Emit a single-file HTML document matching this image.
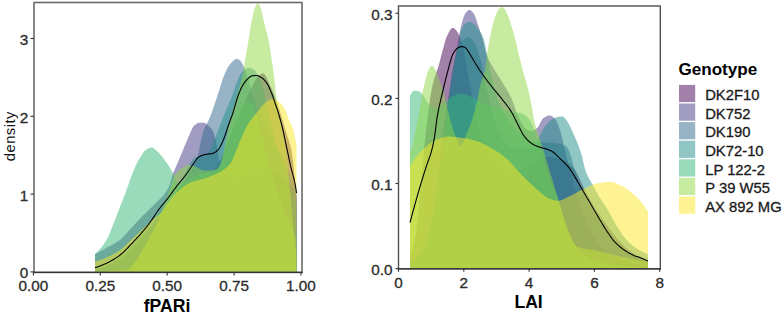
<!DOCTYPE html>
<html><head><meta charset="utf-8"><style>
html,body{margin:0;padding:0;background:#fff;width:783px;height:314px;overflow:hidden}
svg{display:block}
text{font-family:"Liberation Sans", sans-serif}
.t{stroke:currentColor;stroke-width:0.3px;paint-order:stroke}
</style></head><body>
<svg width="783" height="314" viewBox="0 0 783 314" font-family='"Liberation Sans", sans-serif'>
<rect width="783" height="314" fill="#fff"/>
<path d="M95.0,271.9 L95.0,270.0 95.5,269.9 96.0,269.8 96.5,269.6 97.0,269.5 97.5,269.4 98.0,269.2 98.5,269.1 99.0,268.9 99.5,268.8 100.0,268.6 100.5,268.4 101.0,268.3 101.5,268.1 102.0,267.9 102.5,267.7 103.0,267.6 103.5,267.4 104.0,267.2 104.5,267.0 105.0,266.8 105.5,266.6 106.0,266.4 106.5,266.2 107.0,266.0 107.5,265.8 108.0,265.6 108.5,265.4 109.0,265.1 109.5,264.9 110.0,264.7 110.5,264.5 111.0,264.2 111.5,264.0 112.0,263.7 112.5,263.5 113.0,263.2 113.5,262.9 114.0,262.7 114.5,262.4 115.0,262.1 115.5,261.8 116.0,261.5 116.5,261.2 117.0,260.9 117.5,260.6 118.0,260.3 118.5,260.0 119.0,259.7 119.5,259.3 120.0,259.0 120.5,258.7 121.0,258.3 121.5,257.9 122.0,257.5 122.5,257.1 123.0,256.7 123.5,256.2 124.0,255.8 124.5,255.3 125.0,254.9 125.5,254.4 126.0,253.9 126.5,253.5 127.0,253.0 127.5,252.5 128.0,252.0 128.5,251.5 129.0,251.0 129.5,250.5 130.0,250.0 130.5,249.5 131.0,249.0 131.5,248.5 132.0,248.0 132.5,247.5 133.0,247.0 133.5,246.5 134.0,246.0 134.5,245.4 135.0,244.9 135.5,244.4 136.0,243.8 136.5,243.3 137.0,242.8 137.5,242.2 138.0,241.7 138.5,241.1 139.0,240.6 139.5,240.0 140.0,239.5 140.5,238.9 141.0,238.3 141.5,237.8 142.0,237.2 142.5,236.7 143.0,236.1 143.5,235.6 144.0,235.0 144.5,234.4 145.0,233.9 145.5,233.3 146.0,232.8 146.5,232.2 147.0,231.6 147.5,231.1 148.0,230.5 148.5,229.9 149.0,229.3 149.5,228.8 150.0,228.2 150.5,227.6 151.0,227.0 151.5,226.4 152.0,225.8 152.5,225.2 153.0,224.6 153.5,224.0 154.0,223.4 154.5,222.8 155.0,222.2 155.5,221.6 156.0,220.9 156.5,220.3 157.0,219.7 157.5,219.1 158.0,218.5 158.5,217.9 159.0,217.2 159.5,216.6 160.0,216.0 160.5,215.4 161.0,214.8 161.5,214.1 162.0,213.5 162.5,212.9 163.0,212.3 163.5,211.6 164.0,211.0 164.5,210.4 165.0,209.8 165.5,209.1 166.0,208.5 166.5,207.9 167.0,207.3 167.5,206.6 168.0,206.0 168.5,205.4 169.0,204.7 169.5,204.1 170.0,203.4 170.5,202.7 171.0,202.1 171.5,201.4 172.0,200.8 172.5,200.1 173.0,199.5 173.5,198.8 174.0,198.2 174.5,197.6 175.0,197.1 175.5,196.5 176.0,196.0 176.5,195.5 177.0,195.0 177.5,194.6 178.0,194.1 178.5,193.6 179.0,193.2 179.5,192.8 180.0,192.4 180.5,191.9 181.0,191.5 181.5,191.1 182.0,190.8 182.5,190.4 183.0,190.0 183.5,189.6 184.0,189.2 184.5,188.9 185.0,188.5 185.5,188.1 186.0,187.8 186.5,187.4 187.0,187.1 187.5,186.7 188.0,186.4 188.5,186.0 189.0,185.7 189.5,185.4 190.0,185.0 190.5,184.7 191.0,184.4 191.5,184.1 192.0,183.8 192.5,183.5 193.0,183.2 193.5,182.9 194.0,182.6 194.5,182.3 195.0,182.0 195.5,181.7 196.0,181.5 196.5,181.2 197.0,180.9 197.5,180.7 198.0,180.4 198.5,180.2 199.0,179.9 199.5,179.7 200.0,179.5 200.5,179.2 201.0,179.0 201.5,178.8 202.0,178.5 202.5,178.3 203.0,178.0 203.5,177.8 204.0,177.5 204.5,177.3 205.0,177.0 205.5,176.7 206.0,176.5 206.5,176.2 207.0,176.0 207.5,175.8 208.0,175.5 208.5,175.2 209.0,175.0 209.5,174.7 210.0,174.4 210.5,174.1 211.0,173.8 211.5,173.4 212.0,173.0 212.5,172.6 213.0,172.1 213.5,171.5 214.0,170.9 214.5,170.2 215.0,169.5 215.5,168.8 216.0,168.0 216.5,167.2 217.0,166.4 217.5,165.5 218.0,164.6 218.5,163.7 219.0,162.8 219.5,161.9 220.0,161.0 220.5,160.0 221.0,159.0 221.5,158.0 222.0,156.9 222.5,155.7 223.0,154.5 223.5,153.3 224.0,152.1 224.5,150.8 225.0,149.6 225.5,148.3 226.0,147.0 226.5,145.7 227.0,144.5 227.5,143.2 228.0,142.0 228.5,140.8 229.0,139.5 229.5,138.3 230.0,137.0 230.5,135.8 231.0,134.5 231.5,133.2 232.0,131.9 232.5,130.7 233.0,129.4 233.5,128.1 234.0,126.9 234.5,125.6 235.0,124.4 235.5,123.2 236.0,122.0 236.5,120.8 237.0,119.7 237.5,118.5 238.0,117.4 238.5,116.2 239.0,115.1 239.5,114.0 240.0,112.8 240.5,111.7 241.0,110.6 241.5,109.5 242.0,108.4 242.5,107.3 243.0,106.2 243.5,105.1 244.0,104.0 244.5,102.9 245.0,101.8 245.5,100.7 246.0,99.6 246.5,98.5 247.0,97.4 247.5,96.3 248.0,95.2 248.5,94.2 249.0,93.1 249.5,92.0 250.0,91.0 250.5,90.0 251.0,88.9 251.5,87.8 252.0,86.8 252.5,85.7 253.0,84.7 253.5,83.7 254.0,82.7 254.5,81.8 255.0,81.0 255.5,80.2 256.0,79.4 256.5,78.6 257.0,77.8 257.5,77.1 258.0,76.5 258.5,75.9 259.0,75.5 259.5,75.1 260.0,74.7 260.5,74.4 261.0,74.1 261.5,73.8 262.0,73.6 262.5,73.4 263.0,73.4 263.5,73.5 264.0,73.8 264.5,74.3 265.0,74.9 265.5,75.6 266.0,76.5 266.5,77.5 267.0,78.5 267.5,79.6 268.0,80.7 268.5,81.9 269.0,83.0 269.5,84.1 270.0,85.2 270.5,86.2 271.0,87.3 271.5,88.4 272.0,89.6 272.5,90.8 273.0,92.0 273.5,93.3 274.0,94.6 274.5,95.9 275.0,97.3 275.5,98.6 276.0,100.0 276.5,101.4 277.0,102.8 277.5,104.2 278.0,105.7 278.5,107.2 279.0,108.7 279.5,110.3 280.0,111.8 280.5,113.4 281.0,115.0 281.5,116.6 282.0,118.3 282.5,119.9 283.0,121.6 283.5,123.4 284.0,125.1 284.5,126.8 285.0,128.6 285.5,130.3 286.0,132.0 286.5,133.6 287.0,135.2 287.5,136.7 288.0,138.1 288.5,139.6 289.0,141.1 289.5,142.7 290.0,144.5 290.5,146.4 291.0,148.6 291.5,151.0 292.0,153.9 292.5,157.3 293.0,161.1 293.5,165.4 294.0,170.0 294.5,176.0 295.0,182.9 295.5,189.1 296.0,194.3 296.5,199.0 L296.5,271.9 Z" fill="#440154" fill-opacity="0.5"/>
<path d="M95.0,271.9 L95.0,254.2 95.5,253.9 96.0,253.7 96.5,253.4 97.0,253.1 97.5,252.9 98.0,252.6 98.5,252.3 99.0,252.1 99.5,251.8 100.0,251.5 100.5,251.3 101.0,251.0 101.5,250.7 102.0,250.4 102.5,250.2 103.0,249.9 103.5,249.6 104.0,249.3 104.5,249.0 105.0,248.8 105.5,248.5 106.0,248.2 106.5,247.9 107.0,247.6 107.5,247.3 108.0,247.1 108.5,246.8 109.0,246.5 109.5,246.3 110.0,246.0 110.5,245.7 111.0,245.5 111.5,245.2 112.0,244.9 112.5,244.6 113.0,244.4 113.5,244.1 114.0,243.8 114.5,243.5 115.0,243.2 115.5,242.9 116.0,242.6 116.5,242.3 117.0,242.0 117.5,241.6 118.0,241.3 118.5,240.9 119.0,240.6 119.5,240.2 120.0,239.8 120.5,239.4 121.0,239.0 121.5,238.5 122.0,238.0 122.5,237.6 123.0,237.1 123.5,236.6 124.0,236.0 124.5,235.5 125.0,235.0 125.5,234.4 126.0,233.9 126.5,233.3 127.0,232.8 127.5,232.2 128.0,231.7 128.5,231.1 129.0,230.6 129.5,230.0 130.0,229.5 130.5,229.0 131.0,228.4 131.5,227.9 132.0,227.4 132.5,226.8 133.0,226.3 133.5,225.7 134.0,225.2 134.5,224.6 135.0,224.1 135.5,223.5 136.0,223.0 136.5,222.4 137.0,221.9 137.5,221.3 138.0,220.8 138.5,220.3 139.0,219.7 139.5,219.2 140.0,218.7 140.5,218.2 141.0,217.7 141.5,217.2 142.0,216.6 142.5,216.1 143.0,215.6 143.5,215.1 144.0,214.6 144.5,214.2 145.0,213.7 145.5,213.2 146.0,212.7 146.5,212.2 147.0,211.7 147.5,211.2 148.0,210.7 148.5,210.2 149.0,209.7 149.5,209.2 150.0,208.7 150.5,208.2 151.0,207.7 151.5,207.2 152.0,206.7 152.5,206.2 153.0,205.7 153.5,205.2 154.0,204.7 154.5,204.2 155.0,203.7 155.5,203.2 156.0,202.7 156.5,202.2 157.0,201.7 157.5,201.2 158.0,200.7 158.5,200.2 159.0,199.7 159.5,199.3 160.0,198.8 160.5,198.3 161.0,197.9 161.5,197.4 162.0,196.9 162.5,196.4 163.0,195.8 163.5,195.2 164.0,194.6 164.5,194.0 165.0,193.3 165.5,192.6 166.0,191.8 166.5,191.0 167.0,190.1 167.5,189.2 168.0,188.3 168.5,187.2 169.0,186.2 169.5,185.0 170.0,183.7 170.5,182.1 171.0,180.3 171.5,178.5 172.0,176.7 172.5,175.0 173.0,173.5 173.5,172.2 174.0,171.0 174.5,169.9 175.0,168.8 175.5,167.7 176.0,166.6 176.5,165.5 177.0,164.3 177.5,163.2 178.0,162.0 178.5,160.8 179.0,159.6 179.5,158.4 180.0,157.2 180.5,156.0 181.0,154.8 181.5,153.6 182.0,152.4 182.5,151.2 183.0,150.0 183.5,148.8 184.0,147.6 184.5,146.4 185.0,145.2 185.5,144.0 186.0,142.8 186.5,141.6 187.0,140.4 187.5,139.2 188.0,138.0 188.5,136.8 189.0,135.7 189.5,134.6 190.0,133.4 190.5,132.3 191.0,131.1 191.5,129.9 192.0,128.9 192.5,127.9 193.0,127.0 193.5,126.3 194.0,125.8 194.5,125.4 195.0,124.9 195.5,124.5 196.0,124.1 196.5,123.8 197.0,123.5 197.5,123.2 198.0,123.0 198.5,122.8 199.0,122.7 199.5,122.7 200.0,122.7 200.5,122.7 201.0,122.7 201.5,122.7 202.0,122.7 202.5,122.7 203.0,122.7 203.5,122.7 204.0,122.7 204.5,122.7 205.0,122.9 205.5,123.2 206.0,123.6 206.5,124.1 207.0,124.5 207.5,125.0 208.0,125.5 208.5,125.9 209.0,126.4 209.5,126.8 210.0,127.2 210.5,127.7 211.0,128.2 211.5,128.8 212.0,129.5 212.5,130.2 213.0,131.0 213.5,132.0 214.0,133.4 214.5,135.0 215.0,136.9 215.5,138.9 216.0,141.0 216.5,143.5 217.0,146.6 217.5,149.8 218.0,153.1 218.5,156.0 219.0,158.8 219.5,161.5 220.0,164.1 220.5,166.4 221.0,168.0 221.5,169.2 222.0,170.3 222.5,171.4 223.0,172.3 223.5,173.1 224.0,173.9 224.5,174.5 225.0,175.1 225.5,175.6 226.0,176.0 226.5,176.4 227.0,176.7 227.5,177.1 228.0,177.4 228.5,177.7 229.0,178.0 229.5,178.3 230.0,178.6 230.5,178.8 231.0,179.1 231.5,179.3 232.0,179.5 232.5,179.6 233.0,179.7 233.5,179.9 234.0,179.9 234.5,180.0 235.0,180.0 235.5,180.0 236.0,180.0 236.5,179.9 237.0,179.9 237.5,179.9 238.0,179.8 238.5,179.7 239.0,179.7 239.5,179.6 240.0,179.5 240.5,179.4 241.0,179.3 241.5,179.2 242.0,179.1 242.5,179.0 243.0,178.8 243.5,178.7 244.0,178.6 244.5,178.5 245.0,178.3 245.5,178.2 246.0,178.1 246.5,177.9 247.0,177.8 247.5,177.7 248.0,177.5 248.5,177.4 249.0,177.3 249.5,177.1 250.0,177.0 250.5,176.9 251.0,176.7 251.5,176.6 252.0,176.4 252.5,176.2 253.0,176.0 253.5,175.8 254.0,175.6 254.5,175.4 255.0,175.1 255.5,174.9 256.0,174.7 256.5,174.5 257.0,174.3 257.5,174.0 258.0,173.8 258.5,173.6 259.0,173.4 259.5,173.2 260.0,173.0 260.5,172.8 261.0,172.7 261.5,172.5 262.0,172.4 262.5,172.3 263.0,172.2 263.5,172.1 264.0,172.0 264.5,172.0 265.0,172.0 265.5,172.0 266.0,172.0 266.5,172.0 267.0,172.1 267.5,172.1 268.0,172.1 268.5,172.2 269.0,172.3 269.5,172.3 270.0,172.4 270.5,172.5 271.0,172.6 271.5,172.7 272.0,172.8 272.5,172.9 273.0,173.0 273.5,173.1 274.0,173.2 274.5,173.3 275.0,173.5 275.5,173.6 276.0,173.7 276.5,173.9 277.0,174.0 277.5,174.2 278.0,174.3 278.5,174.5 279.0,174.7 279.5,174.8 280.0,175.0 280.5,175.2 281.0,175.4 281.5,175.7 282.0,176.0 282.5,176.3 283.0,176.6 283.5,177.0 284.0,177.5 284.5,177.9 285.0,178.4 285.5,178.9 286.0,179.4 286.5,180.0 287.0,180.6 287.5,181.2 288.0,181.8 288.5,182.4 289.0,183.1 289.5,183.8 290.0,184.5 290.5,185.2 291.0,186.0 291.5,186.7 292.0,187.5 292.5,188.3 293.0,189.1 293.5,189.9 294.0,190.7 294.5,191.6 295.0,192.4 295.5,193.3 296.0,194.1 296.5,195.0 L296.5,271.9 Z" fill="#443A83" fill-opacity="0.5"/>
<path d="M95.0,271.9 L95.0,270.0 95.5,269.9 96.0,269.8 96.5,269.6 97.0,269.5 97.5,269.4 98.0,269.2 98.5,269.1 99.0,268.9 99.5,268.8 100.0,268.6 100.5,268.4 101.0,268.3 101.5,268.1 102.0,267.9 102.5,267.7 103.0,267.6 103.5,267.4 104.0,267.2 104.5,267.0 105.0,266.8 105.5,266.6 106.0,266.4 106.5,266.2 107.0,266.0 107.5,265.8 108.0,265.6 108.5,265.4 109.0,265.1 109.5,264.9 110.0,264.7 110.5,264.5 111.0,264.2 111.5,264.0 112.0,263.7 112.5,263.5 113.0,263.2 113.5,262.9 114.0,262.7 114.5,262.4 115.0,262.1 115.5,261.8 116.0,261.5 116.5,261.2 117.0,260.9 117.5,260.6 118.0,260.3 118.5,260.0 119.0,259.7 119.5,259.3 120.0,259.0 120.5,258.7 121.0,258.3 121.5,257.9 122.0,257.5 122.5,257.1 123.0,256.7 123.5,256.2 124.0,255.8 124.5,255.3 125.0,254.9 125.5,254.4 126.0,253.9 126.5,253.5 127.0,253.0 127.5,252.5 128.0,252.0 128.5,251.5 129.0,251.0 129.5,250.5 130.0,250.0 130.5,249.5 131.0,249.0 131.5,248.5 132.0,248.0 132.5,247.5 133.0,247.0 133.5,246.5 134.0,246.0 134.5,245.4 135.0,244.9 135.5,244.4 136.0,243.8 136.5,243.3 137.0,242.8 137.5,242.2 138.0,241.7 138.5,241.1 139.0,240.6 139.5,240.0 140.0,239.5 140.5,238.9 141.0,238.3 141.5,237.8 142.0,237.2 142.5,236.7 143.0,236.1 143.5,235.6 144.0,235.0 144.5,234.4 145.0,233.9 145.5,233.3 146.0,232.8 146.5,232.2 147.0,231.6 147.5,231.1 148.0,230.5 148.5,229.9 149.0,229.3 149.5,228.8 150.0,228.2 150.5,227.6 151.0,227.0 151.5,226.4 152.0,225.8 152.5,225.2 153.0,224.6 153.5,224.0 154.0,223.4 154.5,222.8 155.0,222.2 155.5,221.6 156.0,221.0 156.5,220.4 157.0,219.8 157.5,219.1 158.0,218.5 158.5,217.9 159.0,217.3 159.5,216.6 160.0,216.0 160.5,215.4 161.0,214.7 161.5,214.1 162.0,213.4 162.5,212.8 163.0,212.1 163.5,211.5 164.0,210.8 164.5,210.1 165.0,209.5 165.5,208.8 166.0,208.1 166.5,207.5 167.0,206.8 167.5,206.1 168.0,205.4 168.5,204.8 169.0,204.1 169.5,203.4 170.0,202.7 170.5,202.0 171.0,201.4 171.5,200.7 172.0,200.0 172.5,199.3 173.0,198.6 173.5,198.0 174.0,197.3 174.5,196.6 175.0,196.0 175.5,195.3 176.0,194.6 176.5,193.9 177.0,193.2 177.5,192.6 178.0,191.9 178.5,191.2 179.0,190.5 179.5,189.7 180.0,189.0 180.5,188.3 181.0,187.5 181.5,186.8 182.0,186.0 182.5,185.2 183.0,184.4 183.5,183.6 184.0,182.7 184.5,181.8 185.0,180.9 185.5,180.0 186.0,179.1 186.5,178.2 187.0,177.3 187.5,176.4 188.0,175.5 188.5,174.6 189.0,173.7 189.5,172.9 190.0,172.0 190.5,171.2 191.0,170.4 191.5,169.6 192.0,168.8 192.5,168.0 193.0,167.2 193.5,166.3 194.0,165.4 194.5,164.4 195.0,163.3 195.5,162.2 196.0,161.0 196.5,159.8 197.0,158.3 197.5,156.8 198.0,154.9 198.5,152.7 199.0,150.3 199.5,147.8 200.0,145.3 200.5,143.0 201.0,140.8 201.5,138.6 202.0,136.5 202.5,134.4 203.0,132.6 203.5,131.0 204.0,129.7 204.5,128.5 205.0,127.4 205.5,126.4 206.0,125.5 206.5,124.5 207.0,123.5 207.5,122.5 208.0,121.4 208.5,120.4 209.0,119.3 209.5,118.2 210.0,117.0 210.5,115.7 211.0,114.4 211.5,113.0 212.0,111.6 212.5,110.2 213.0,108.7 213.5,107.3 214.0,105.8 214.5,104.4 215.0,102.9 215.5,101.4 216.0,99.9 216.5,98.4 217.0,96.9 217.5,95.3 218.0,93.8 218.5,92.3 219.0,90.8 219.5,89.3 220.0,87.7 220.5,86.1 221.0,84.5 221.5,82.9 222.0,81.4 222.5,79.8 223.0,78.4 223.5,77.0 224.0,75.7 224.5,74.5 225.0,73.4 225.5,72.2 226.0,71.1 226.5,70.0 227.0,68.9 227.5,68.0 228.0,67.1 228.5,66.3 229.0,65.6 229.5,64.9 230.0,64.3 230.5,63.7 231.0,63.1 231.5,62.5 232.0,62.0 232.5,61.4 233.0,60.9 233.5,60.5 234.0,60.1 234.5,59.7 235.0,59.4 235.5,59.2 236.0,59.0 236.5,58.9 237.0,58.9 237.5,59.0 238.0,59.2 238.5,59.5 239.0,59.8 239.5,60.1 240.0,60.5 240.5,61.0 241.0,61.5 241.5,62.3 242.0,63.1 242.5,64.0 243.0,64.9 243.5,66.0 244.0,67.0 244.5,68.1 245.0,69.5 245.5,70.9 246.0,72.4 246.5,74.1 247.0,75.7 247.5,77.4 248.0,79.0 248.5,80.7 249.0,82.4 249.5,84.1 250.0,85.9 250.5,87.8 251.0,89.5 251.5,91.3 252.0,93.0 252.5,94.7 253.0,96.4 253.5,98.0 254.0,99.7 254.5,101.4 255.0,103.0 255.5,104.6 256.0,106.2 256.5,107.7 257.0,109.2 257.5,110.6 258.0,112.0 258.5,113.3 259.0,114.6 259.5,115.9 260.0,117.1 260.5,118.3 261.0,119.5 261.5,120.6 262.0,121.7 262.5,122.8 263.0,123.9 263.5,125.0 264.0,126.0 264.5,127.0 265.0,128.0 265.5,129.0 266.0,129.9 266.5,130.8 267.0,131.7 267.5,132.6 268.0,133.5 268.5,134.3 269.0,135.2 269.5,136.0 270.0,136.8 270.5,137.6 271.0,138.5 271.5,139.3 272.0,140.1 272.5,140.9 273.0,141.7 273.5,142.5 274.0,143.3 274.5,144.2 275.0,145.0 275.5,145.8 276.0,146.7 276.5,147.5 277.0,148.3 277.5,149.1 278.0,149.9 278.5,150.7 279.0,151.5 279.5,152.3 280.0,153.1 280.5,153.9 281.0,154.7 281.5,155.5 282.0,156.4 282.5,157.3 283.0,158.2 283.5,159.1 284.0,160.0 284.5,161.0 285.0,162.0 285.5,163.0 286.0,164.1 286.5,165.2 287.0,166.3 287.5,167.5 288.0,168.6 288.5,169.8 289.0,171.0 289.5,172.3 290.0,173.6 290.5,174.8 291.0,176.2 291.5,177.5 292.0,178.9 292.5,180.2 293.0,181.6 293.5,183.1 294.0,184.5 294.5,186.0 295.0,187.4 295.5,188.9 296.0,190.5 296.5,192.0 L296.5,271.9 Z" fill="#31688E" fill-opacity="0.5"/>
<path d="M95.0,271.9 L95.0,269.3 95.5,269.2 96.0,269.0 96.5,268.9 97.0,268.7 97.5,268.6 98.0,268.4 98.5,268.2 99.0,268.1 99.5,267.9 100.0,267.7 100.5,267.5 101.0,267.3 101.5,267.2 102.0,267.0 102.5,266.8 103.0,266.6 103.5,266.3 104.0,266.1 104.5,265.9 105.0,265.7 105.5,265.5 106.0,265.3 106.5,265.0 107.0,264.8 107.5,264.6 108.0,264.3 108.5,264.1 109.0,263.8 109.5,263.6 110.0,263.3 110.5,263.0 111.0,262.8 111.5,262.5 112.0,262.2 112.5,261.9 113.0,261.6 113.5,261.3 114.0,261.0 114.5,260.7 115.0,260.4 115.5,260.1 116.0,259.7 116.5,259.4 117.0,259.1 117.5,258.7 118.0,258.4 118.5,258.0 119.0,257.7 119.5,257.3 120.0,256.9 120.5,256.5 121.0,256.2 121.5,255.8 122.0,255.3 122.5,254.9 123.0,254.5 123.5,254.0 124.0,253.6 124.5,253.1 125.0,252.7 125.5,252.2 126.0,251.7 126.5,251.3 127.0,250.8 127.5,250.3 128.0,249.8 128.5,249.3 129.0,248.8 129.5,248.3 130.0,247.8 130.5,247.3 131.0,246.8 131.5,246.3 132.0,245.8 132.5,245.3 133.0,244.7 133.5,244.2 134.0,243.7 134.5,243.1 135.0,242.6 135.5,242.0 136.0,241.5 136.5,240.9 137.0,240.3 137.5,239.8 138.0,239.2 138.5,238.6 139.0,238.0 139.5,237.5 140.0,236.9 140.5,236.3 141.0,235.7 141.5,235.2 142.0,234.6 142.5,234.0 143.0,233.4 143.5,232.9 144.0,232.3 144.5,231.7 145.0,231.2 145.5,230.6 146.0,230.1 146.5,229.5 147.0,229.0 147.5,228.4 148.0,227.8 148.5,227.3 149.0,226.7 149.5,226.1 150.0,225.5 150.5,224.9 151.0,224.3 151.5,223.7 152.0,223.0 152.5,222.4 153.0,221.7 153.5,221.0 154.0,220.3 154.5,219.6 155.0,218.9 155.5,218.2 156.0,217.5 156.5,216.8 157.0,216.1 157.5,215.4 158.0,214.7 158.5,214.0 159.0,213.3 159.5,212.6 160.0,212.0 160.5,211.4 161.0,210.8 161.5,210.1 162.0,209.5 162.5,209.0 163.0,208.4 163.5,207.8 164.0,207.2 164.5,206.7 165.0,206.1 165.5,205.5 166.0,205.0 166.5,204.4 167.0,203.8 167.5,203.2 168.0,202.6 168.5,202.0 169.0,201.3 169.5,200.7 170.0,200.0 170.5,199.3 171.0,198.6 171.5,197.9 172.0,197.2 172.5,196.5 173.0,195.8 173.5,195.1 174.0,194.3 174.5,193.6 175.0,192.9 175.5,192.1 176.0,191.3 176.5,190.5 177.0,189.7 177.5,188.9 178.0,188.1 178.5,187.3 179.0,186.4 179.5,185.5 180.0,184.7 180.5,183.8 181.0,182.9 181.5,181.9 182.0,181.0 182.5,180.0 183.0,178.9 183.5,177.7 184.0,176.5 184.5,175.3 185.0,174.0 185.5,172.7 186.0,171.4 186.5,170.2 187.0,169.0 187.5,167.8 188.0,166.8 188.5,165.8 189.0,165.0 189.5,164.2 190.0,163.5 190.5,162.7 191.0,162.0 191.5,161.3 192.0,160.6 192.5,160.0 193.0,159.4 193.5,158.8 194.0,158.3 194.5,157.9 195.0,157.5 195.5,157.2 196.0,157.0 196.5,156.8 197.0,156.6 197.5,156.5 198.0,156.3 198.5,156.2 199.0,156.1 199.5,156.0 200.0,155.9 200.5,155.8 201.0,155.6 201.5,155.5 202.0,155.3 202.5,155.1 203.0,155.0 203.5,154.8 204.0,154.6 204.5,154.4 205.0,154.2 205.5,154.0 206.0,153.7 206.5,153.5 207.0,153.2 207.5,152.9 208.0,152.5 208.5,152.2 209.0,151.7 209.5,151.1 210.0,150.3 210.5,149.4 211.0,148.4 211.5,147.3 212.0,146.2 212.5,145.1 213.0,144.0 213.5,142.8 214.0,141.6 214.5,140.3 215.0,138.9 215.5,137.5 216.0,136.0 216.5,134.6 217.0,133.3 217.5,131.9 218.0,130.6 218.5,129.3 219.0,128.0 219.5,126.6 220.0,125.3 220.5,124.0 221.0,122.7 221.5,121.4 222.0,120.1 222.5,118.8 223.0,117.5 223.5,116.3 224.0,115.0 224.5,113.8 225.0,112.6 225.5,111.4 226.0,110.2 226.5,109.0 227.0,107.9 227.5,106.7 228.0,105.6 228.5,104.4 229.0,103.3 229.5,102.1 230.0,100.9 230.5,99.7 231.0,98.5 231.5,97.3 232.0,96.0 232.5,94.7 233.0,93.4 233.5,91.9 234.0,90.5 234.5,89.0 235.0,87.5 235.5,86.0 236.0,84.6 236.5,83.2 237.0,82.0 237.5,80.8 238.0,79.6 238.5,78.4 239.0,77.3 239.5,76.1 240.0,75.1 240.5,74.1 241.0,73.3 241.5,72.6 242.0,72.0 242.5,71.5 243.0,71.0 243.5,70.6 244.0,70.1 244.5,69.7 245.0,69.3 245.5,69.0 246.0,68.7 246.5,68.4 247.0,68.2 247.5,68.0 248.0,67.9 248.5,67.8 249.0,67.8 249.5,67.9 250.0,67.9 250.5,68.1 251.0,68.2 251.5,68.4 252.0,68.6 252.5,68.8 253.0,69.0 253.5,69.3 254.0,69.7 254.5,70.1 255.0,70.7 255.5,71.3 256.0,72.0 256.5,72.7 257.0,73.5 257.5,74.3 258.0,75.3 258.5,76.4 259.0,77.5 259.5,78.8 260.0,80.1 260.5,81.5 261.0,83.0 261.5,84.5 262.0,86.0 262.5,87.6 263.0,89.4 263.5,91.3 264.0,93.2 264.5,95.3 265.0,97.4 265.5,99.6 266.0,101.7 266.5,103.9 267.0,106.0 267.5,108.1 268.0,110.3 268.5,112.5 269.0,114.8 269.5,117.1 270.0,119.3 270.5,121.6 271.0,123.8 271.5,125.9 272.0,128.0 272.5,130.0 273.0,132.0 273.5,134.0 274.0,136.0 274.5,138.0 275.0,139.9 275.5,141.8 276.0,143.7 276.5,145.6 277.0,147.5 277.5,149.3 278.0,151.1 278.5,152.9 279.0,154.6 279.5,156.3 280.0,158.0 280.5,159.7 281.0,161.3 281.5,162.9 282.0,164.4 282.5,166.0 283.0,167.5 283.5,169.0 284.0,170.5 284.5,172.0 285.0,173.4 285.5,174.9 286.0,176.3 286.5,177.7 287.0,179.2 287.5,180.6 288.0,182.0 288.5,183.4 289.0,184.8 289.5,186.2 290.0,187.6 290.5,189.0 291.0,190.4 291.5,191.8 292.0,193.1 292.5,194.5 293.0,195.8 293.5,197.2 294.0,198.5 294.5,199.8 295.0,201.1 295.5,202.4 296.0,203.7 296.5,205.0 L296.5,271.9 Z" fill="#21908C" fill-opacity="0.5"/>
<path d="M95.0,271.9 L95.0,254.0 95.5,253.5 96.0,253.0 96.5,252.5 97.0,252.0 97.5,251.5 98.0,251.0 98.5,250.5 99.0,249.9 99.5,249.4 100.0,248.8 100.5,248.3 101.0,247.7 101.5,247.1 102.0,246.5 102.5,245.9 103.0,245.3 103.5,244.6 104.0,244.0 104.5,243.2 105.0,242.5 105.5,241.7 106.0,240.8 106.5,239.9 107.0,239.0 107.5,238.0 108.0,237.0 108.5,235.9 109.0,234.8 109.5,233.7 110.0,232.5 110.5,231.3 111.0,230.1 111.5,228.8 112.0,227.6 112.5,226.3 113.0,225.0 113.5,223.8 114.0,222.5 114.5,221.2 115.0,220.0 115.5,218.7 116.0,217.4 116.5,216.1 117.0,214.8 117.5,213.5 118.0,212.2 118.5,210.9 119.0,209.6 119.5,208.2 120.0,206.9 120.5,205.6 121.0,204.3 121.5,203.1 122.0,201.8 122.5,200.5 123.0,199.2 123.5,197.9 124.0,196.7 124.5,195.4 125.0,194.1 125.5,192.7 126.0,191.4 126.5,190.1 127.0,188.7 127.5,187.3 128.0,185.8 128.5,184.4 129.0,182.9 129.5,181.5 130.0,180.1 130.5,178.7 131.0,177.3 131.5,176.0 132.0,174.7 132.5,173.4 133.0,172.1 133.5,170.9 134.0,169.6 134.5,168.4 135.0,167.3 135.5,166.1 136.0,165.0 136.5,164.0 137.0,163.0 137.5,162.1 138.0,161.2 138.5,160.3 139.0,159.4 139.5,158.6 140.0,157.8 140.5,157.0 141.0,156.2 141.5,155.4 142.0,154.6 142.5,153.8 143.0,153.0 143.5,152.3 144.0,151.6 144.5,151.0 145.0,150.5 145.5,150.2 146.0,149.8 146.5,149.5 147.0,149.2 147.5,148.9 148.0,148.6 148.5,148.3 149.0,148.1 149.5,147.9 150.0,147.7 150.5,147.5 151.0,147.5 151.5,147.4 152.0,147.4 152.5,147.6 153.0,147.8 153.5,148.1 154.0,148.5 154.5,149.0 155.0,149.4 155.5,149.9 156.0,150.3 156.5,150.7 157.0,151.2 157.5,151.6 158.0,152.1 158.5,152.6 159.0,153.1 159.5,153.6 160.0,154.2 160.5,154.7 161.0,155.3 161.5,155.9 162.0,156.5 162.5,157.1 163.0,157.8 163.5,158.5 164.0,159.1 164.5,159.8 165.0,160.5 165.5,161.2 166.0,161.9 166.5,162.6 167.0,163.3 167.5,164.0 168.0,164.8 168.5,165.5 169.0,166.3 169.5,167.1 170.0,167.9 170.5,168.7 171.0,169.6 171.5,170.5 172.0,171.5 172.5,172.4 173.0,173.5 173.5,174.5 174.0,175.7 174.5,177.1 175.0,178.4 175.5,179.6 176.0,180.5 176.5,181.1 177.0,181.7 177.5,182.2 178.0,182.6 178.5,182.9 179.0,183.0 179.5,183.0 180.0,183.0 180.5,182.9 181.0,182.9 181.5,182.8 182.0,182.7 182.5,182.6 183.0,182.5 183.5,182.4 184.0,182.3 184.5,182.1 185.0,182.0 185.5,181.8 186.0,181.6 186.5,181.4 187.0,181.1 187.5,180.8 188.0,180.5 188.5,180.2 189.0,179.9 189.5,179.5 190.0,179.2 190.5,178.8 191.0,178.5 191.5,178.3 192.0,178.0 192.5,177.8 193.0,177.5 193.5,177.3 194.0,177.1 194.5,176.8 195.0,176.6 195.5,176.4 196.0,176.2 196.5,175.9 197.0,175.7 197.5,175.5 198.0,175.3 198.5,175.1 199.0,175.0 199.5,174.8 200.0,174.6 200.5,174.4 201.0,174.3 201.5,174.1 202.0,174.0 202.5,173.9 203.0,173.8 203.5,173.7 204.0,173.6 204.5,173.5 205.0,173.4 205.5,173.3 206.0,173.2 206.5,173.2 207.0,173.1 207.5,173.0 208.0,172.9 208.5,172.8 209.0,172.8 209.5,172.7 210.0,172.6 210.5,172.4 211.0,172.3 211.5,172.2 212.0,172.0 212.5,171.8 213.0,171.6 213.5,171.3 214.0,171.0 214.5,170.7 215.0,170.3 215.5,169.9 216.0,169.4 216.5,168.9 217.0,168.4 217.5,167.8 218.0,167.3 218.5,166.6 219.0,166.0 219.5,165.2 220.0,164.3 220.5,163.1 221.0,161.9 221.5,160.5 222.0,158.9 222.5,157.4 223.0,155.7 223.5,154.0 224.0,152.4 224.5,150.7 225.0,149.1 225.5,147.5 226.0,146.0 226.5,144.5 227.0,143.1 227.5,141.6 228.0,140.1 228.5,138.5 229.0,137.0 229.5,135.5 230.0,133.9 230.5,132.4 231.0,130.9 231.5,129.4 232.0,128.0 232.5,126.5 233.0,125.1 233.5,123.8 234.0,122.5 234.5,121.2 235.0,120.0 235.5,118.8 236.0,117.6 236.5,116.5 237.0,115.3 237.5,114.2 238.0,113.0 238.5,112.0 239.0,110.9 239.5,109.9 240.0,109.0 240.5,108.1 241.0,107.3 241.5,106.6 242.0,106.0 242.5,105.4 243.0,104.8 243.5,104.2 244.0,103.7 244.5,103.1 245.0,102.6 245.5,102.2 246.0,101.8 246.5,101.5 247.0,101.2 247.5,101.1 248.0,101.0 248.5,101.1 249.0,101.2 249.5,101.5 250.0,101.8 250.5,102.2 251.0,102.7 251.5,103.2 252.0,103.8 252.5,104.4 253.0,105.0 253.5,105.8 254.0,106.7 254.5,107.9 255.0,109.3 255.5,110.8 256.0,112.4 256.5,114.0 257.0,115.7 257.5,117.3 258.0,119.0 258.5,120.8 259.0,122.6 259.5,124.6 260.0,126.6 260.5,128.7 261.0,130.9 261.5,133.1 262.0,135.2 262.5,137.4 263.0,139.6 263.5,141.8 264.0,143.9 264.5,146.0 265.0,148.0 265.5,150.0 266.0,151.9 266.5,153.9 267.0,155.9 267.5,157.8 268.0,159.7 268.5,161.7 269.0,163.6 269.5,165.5 270.0,167.4 270.5,169.2 271.0,171.0 271.5,172.8 272.0,174.6 272.5,176.3 273.0,178.0 273.5,179.7 274.0,181.3 274.5,182.9 275.0,184.5 275.5,186.0 276.0,187.6 276.5,189.1 277.0,190.6 277.5,192.1 278.0,193.6 278.5,195.0 279.0,196.4 279.5,197.8 280.0,199.2 280.5,200.6 281.0,202.0 281.5,203.4 282.0,204.7 282.5,206.0 283.0,207.3 283.5,208.6 284.0,209.9 284.5,211.1 285.0,212.4 285.5,213.6 286.0,214.8 286.5,216.0 287.0,217.2 287.5,218.4 288.0,219.6 288.5,220.8 289.0,222.0 289.5,223.2 290.0,224.3 290.5,225.5 291.0,226.7 291.5,227.8 292.0,228.9 292.5,230.0 293.0,231.1 293.5,232.2 294.0,233.2 294.5,234.2 295.0,235.2 295.5,236.2 296.0,237.1 296.5,238.0 L296.5,271.9 Z" fill="#35B779" fill-opacity="0.5"/>
<path d="M95.0,271.9 L95.0,271.5 95.5,271.5 96.0,271.5 96.5,271.5 97.0,271.5 97.5,271.4 98.0,271.4 98.5,271.4 99.0,271.4 99.5,271.4 100.0,271.4 100.5,271.3 101.0,271.3 101.5,271.3 102.0,271.3 102.5,271.3 103.0,271.3 103.5,271.2 104.0,271.2 104.5,271.2 105.0,271.2 105.5,271.2 106.0,271.2 106.5,271.1 107.0,271.1 107.5,271.1 108.0,271.1 108.5,271.1 109.0,271.0 109.5,271.0 110.0,271.0 110.5,271.0 111.0,271.0 111.5,270.9 112.0,270.9 112.5,270.9 113.0,270.9 113.5,270.9 114.0,270.8 114.5,270.8 115.0,270.8 115.5,270.8 116.0,270.7 116.5,270.7 117.0,270.7 117.5,270.7 118.0,270.6 118.5,270.6 119.0,270.6 119.5,270.5 120.0,270.5 120.5,270.5 121.0,270.4 121.5,270.4 122.0,270.3 122.5,270.3 123.0,270.3 123.5,270.2 124.0,270.1 124.5,270.1 125.0,270.0 125.5,269.9 126.0,269.9 126.5,269.8 127.0,269.7 127.5,269.6 128.0,269.4 128.5,269.2 129.0,269.0 129.5,268.6 130.0,268.2 130.5,267.7 131.0,267.1 131.5,266.6 132.0,265.9 132.5,265.3 133.0,264.6 133.5,264.0 134.0,263.3 134.5,262.6 135.0,262.0 135.5,261.4 136.0,260.7 136.5,260.0 137.0,259.2 137.5,258.5 138.0,257.7 138.5,256.9 139.0,256.1 139.5,255.2 140.0,254.4 140.5,253.5 141.0,252.7 141.5,251.8 142.0,251.0 142.5,250.2 143.0,249.3 143.5,248.4 144.0,247.5 144.5,246.7 145.0,245.8 145.5,244.9 146.0,243.9 146.5,243.0 147.0,242.1 147.5,241.2 148.0,240.2 148.5,239.3 149.0,238.4 149.5,237.4 150.0,236.5 150.5,235.6 151.0,234.6 151.5,233.7 152.0,232.8 152.5,231.9 153.0,230.9 153.5,230.0 154.0,229.0 154.5,228.1 155.0,227.1 155.5,226.1 156.0,225.1 156.5,224.1 157.0,223.0 157.5,221.9 158.0,220.8 158.5,219.7 159.0,218.4 159.5,217.2 160.0,215.9 160.5,214.6 161.0,213.3 161.5,211.9 162.0,210.6 162.5,209.3 163.0,208.0 163.5,206.7 164.0,205.4 164.5,204.1 165.0,202.8 165.5,201.5 166.0,200.2 166.5,198.9 167.0,197.5 167.5,196.1 168.0,194.7 168.5,193.3 169.0,191.9 169.5,190.4 170.0,188.9 170.5,187.5 171.0,186.0 171.5,184.4 172.0,182.8 172.5,181.1 173.0,179.4 173.5,177.9 174.0,176.6 174.5,175.6 175.0,174.8 175.5,174.0 176.0,173.3 176.5,172.6 177.0,172.0 177.5,171.5 178.0,171.0 178.5,170.5 179.0,170.1 179.5,169.7 180.0,169.3 180.5,169.0 181.0,168.7 181.5,168.3 182.0,168.1 182.5,167.8 183.0,167.5 183.5,167.2 184.0,166.9 184.5,166.7 185.0,166.4 185.5,166.1 186.0,165.8 186.5,165.6 187.0,165.4 187.5,165.3 188.0,165.2 188.5,165.1 189.0,165.1 189.5,165.1 190.0,165.2 190.5,165.3 191.0,165.4 191.5,165.5 192.0,165.6 192.5,165.7 193.0,165.9 193.5,166.0 194.0,166.2 194.5,166.4 195.0,166.5 195.5,166.7 196.0,166.9 196.5,167.1 197.0,167.4 197.5,167.7 198.0,168.0 198.5,168.3 199.0,168.6 199.5,168.9 200.0,169.2 200.5,169.5 201.0,169.7 201.5,170.0 202.0,170.2 202.5,170.4 203.0,170.5 203.5,170.6 204.0,170.6 204.5,170.6 205.0,170.6 205.5,170.6 206.0,170.6 206.5,170.6 207.0,170.6 207.5,170.6 208.0,170.6 208.5,170.6 209.0,170.6 209.5,170.6 210.0,170.5 210.5,170.5 211.0,170.5 211.5,170.5 212.0,170.5 212.5,170.5 213.0,170.4 213.5,170.3 214.0,170.2 214.5,170.1 215.0,170.0 215.5,169.8 216.0,169.6 216.5,169.4 217.0,169.2 217.5,168.8 218.0,168.3 218.5,167.7 219.0,166.9 219.5,166.1 220.0,165.1 220.5,164.1 221.0,163.0 221.5,161.6 222.0,159.8 222.5,157.7 223.0,155.4 223.5,152.9 224.0,150.4 224.5,148.0 225.0,145.6 225.5,143.0 226.0,140.3 226.5,137.7 227.0,135.0 227.5,132.4 228.0,130.0 228.5,127.7 229.0,125.4 229.5,123.3 230.0,121.1 230.5,119.0 231.0,117.0 231.5,115.0 232.0,113.0 232.5,111.1 233.0,109.2 233.5,107.4 234.0,105.6 234.5,103.9 235.0,102.2 235.5,100.4 236.0,98.7 236.5,97.0 237.0,95.3 237.5,93.6 238.0,91.9 238.5,90.3 239.0,88.6 239.5,86.9 240.0,85.1 240.5,83.3 241.0,81.5 241.5,79.6 242.0,77.6 242.5,75.5 243.0,73.0 243.5,70.1 244.0,67.1 244.5,63.9 245.0,60.8 245.5,57.8 246.0,54.9 246.5,52.0 247.0,49.1 247.5,46.2 248.0,43.2 248.5,40.3 249.0,37.3 249.5,34.1 250.0,31.0 250.5,27.8 251.0,24.8 251.5,22.0 252.0,19.4 252.5,17.0 253.0,14.6 253.5,12.4 254.0,10.5 254.5,9.0 255.0,7.8 255.5,6.5 256.0,5.4 256.5,4.5 257.0,3.8 257.5,3.4 258.0,3.3 258.5,3.7 259.0,4.4 259.5,5.3 260.0,6.5 260.5,7.7 261.0,9.0 261.5,10.6 262.0,12.8 262.5,15.2 263.0,17.6 263.5,19.9 264.0,21.9 264.5,23.9 265.0,25.8 265.5,27.7 266.0,29.6 266.5,31.5 267.0,33.5 267.5,35.6 268.0,37.8 268.5,40.2 269.0,42.8 269.5,45.6 270.0,48.6 270.5,51.7 271.0,55.0 271.5,58.3 272.0,61.6 272.5,65.1 273.0,68.7 273.5,72.5 274.0,76.3 274.5,80.3 275.0,84.7 275.5,89.3 276.0,93.8 276.5,97.9 277.0,101.2 277.5,104.1 278.0,106.7 278.5,109.3 279.0,112.0 279.5,114.8 280.0,117.6 280.5,120.4 281.0,123.2 281.5,126.1 282.0,129.0 282.5,131.9 283.0,135.0 283.5,138.1 284.0,141.2 284.5,144.4 285.0,147.7 285.5,151.0 286.0,154.5 286.5,158.2 287.0,162.0 287.5,166.1 288.0,170.4 288.5,174.9 289.0,179.7 289.5,184.6 290.0,189.6 290.5,194.8 291.0,200.0 291.5,205.6 292.0,211.7 292.5,217.9 293.0,224.1 293.5,229.9 294.0,235.0 294.5,239.6 295.0,243.9 295.5,247.9 296.0,251.6 296.5,255.0 L296.5,271.9 Z" fill="#8FD744" fill-opacity="0.5"/>
<path d="M95.0,271.9 L95.0,261.8 95.5,261.7 96.0,261.5 96.5,261.3 97.0,261.2 97.5,261.0 98.0,260.8 98.5,260.7 99.0,260.5 99.5,260.3 100.0,260.1 100.5,260.0 101.0,259.8 101.5,259.6 102.0,259.4 102.5,259.2 103.0,259.0 103.5,258.8 104.0,258.6 104.5,258.4 105.0,258.1 105.5,257.9 106.0,257.7 106.5,257.5 107.0,257.3 107.5,257.0 108.0,256.8 108.5,256.6 109.0,256.3 109.5,256.1 110.0,255.9 110.5,255.6 111.0,255.4 111.5,255.1 112.0,254.9 112.5,254.6 113.0,254.3 113.5,254.1 114.0,253.8 114.5,253.5 115.0,253.2 115.5,252.9 116.0,252.6 116.5,252.3 117.0,252.0 117.5,251.7 118.0,251.4 118.5,251.1 119.0,250.7 119.5,250.4 120.0,250.1 120.5,249.7 121.0,249.3 121.5,248.9 122.0,248.5 122.5,248.1 123.0,247.7 123.5,247.2 124.0,246.8 124.5,246.3 125.0,245.9 125.5,245.4 126.0,244.9 126.5,244.4 127.0,243.9 127.5,243.4 128.0,243.0 128.5,242.5 129.0,242.0 129.5,241.5 130.0,241.0 130.5,240.5 131.0,240.0 131.5,239.6 132.0,239.1 132.5,238.6 133.0,238.2 133.5,237.7 134.0,237.2 134.5,236.7 135.0,236.3 135.5,235.8 136.0,235.3 136.5,234.8 137.0,234.3 137.5,233.8 138.0,233.4 138.5,232.9 139.0,232.4 139.5,231.9 140.0,231.4 140.5,231.0 141.0,230.5 141.5,230.0 142.0,229.5 142.5,229.0 143.0,228.6 143.5,228.1 144.0,227.6 144.5,227.1 145.0,226.7 145.5,226.2 146.0,225.7 146.5,225.2 147.0,224.8 147.5,224.3 148.0,223.8 148.5,223.4 149.0,222.9 149.5,222.5 150.0,222.0 150.5,221.6 151.0,221.1 151.5,220.7 152.0,220.3 152.5,219.9 153.0,219.4 153.5,219.0 154.0,218.6 154.5,218.2 155.0,217.8 155.5,217.4 156.0,217.0 156.5,216.6 157.0,216.2 157.5,215.8 158.0,215.3 158.5,214.9 159.0,214.4 159.5,213.9 160.0,213.4 160.5,212.9 161.0,212.4 161.5,211.8 162.0,211.2 162.5,210.6 163.0,209.9 163.5,209.3 164.0,208.6 164.5,207.8 165.0,207.1 165.5,206.4 166.0,205.7 166.5,205.0 167.0,204.3 167.5,203.6 168.0,203.0 168.5,202.4 169.0,201.7 169.5,201.1 170.0,200.4 170.5,199.8 171.0,199.1 171.5,198.5 172.0,197.9 172.5,197.3 173.0,196.6 173.5,196.0 174.0,195.5 174.5,194.9 175.0,194.3 175.5,193.8 176.0,193.3 176.5,192.8 177.0,192.3 177.5,191.9 178.0,191.4 178.5,190.9 179.0,190.5 179.5,190.0 180.0,189.6 180.5,189.2 181.0,188.8 181.5,188.3 182.0,187.9 182.5,187.5 183.0,187.1 183.5,186.7 184.0,186.4 184.5,186.0 185.0,185.7 185.5,185.3 186.0,185.0 186.5,184.7 187.0,184.4 187.5,184.1 188.0,183.8 188.5,183.5 189.0,183.3 189.5,183.0 190.0,182.8 190.5,182.6 191.0,182.4 191.5,182.2 192.0,182.0 192.5,181.9 193.0,181.7 193.5,181.5 194.0,181.4 194.5,181.2 195.0,181.1 195.5,180.9 196.0,180.8 196.5,180.6 197.0,180.5 197.5,180.4 198.0,180.2 198.5,180.1 199.0,180.0 199.5,179.8 200.0,179.7 200.5,179.6 201.0,179.4 201.5,179.3 202.0,179.2 202.5,179.0 203.0,178.9 203.5,178.7 204.0,178.5 204.5,178.4 205.0,178.2 205.5,178.0 206.0,177.9 206.5,177.7 207.0,177.5 207.5,177.3 208.0,177.2 208.5,177.0 209.0,176.8 209.5,176.6 210.0,176.4 210.5,176.3 211.0,176.1 211.5,175.9 212.0,175.7 212.5,175.5 213.0,175.3 213.5,175.1 214.0,174.9 214.5,174.7 215.0,174.4 215.5,174.2 216.0,174.0 216.5,173.8 217.0,173.5 217.5,173.3 218.0,173.0 218.5,172.7 219.0,172.5 219.5,172.2 220.0,171.9 220.5,171.6 221.0,171.4 221.5,171.1 222.0,170.8 222.5,170.4 223.0,170.1 223.5,169.8 224.0,169.4 224.5,169.1 225.0,168.7 225.5,168.3 226.0,167.9 226.5,167.5 227.0,167.0 227.5,166.6 228.0,166.1 228.5,165.6 229.0,165.1 229.5,164.6 230.0,164.0 230.5,163.4 231.0,162.6 231.5,161.8 232.0,160.9 232.5,159.9 233.0,158.8 233.5,157.6 234.0,156.4 234.5,155.2 235.0,153.9 235.5,152.6 236.0,151.3 236.5,150.0 237.0,148.7 237.5,147.3 238.0,146.0 238.5,144.8 239.0,143.5 239.5,142.3 240.0,141.2 240.5,140.1 241.0,138.9 241.5,137.8 242.0,136.6 242.5,135.5 243.0,134.3 243.5,133.1 244.0,132.0 244.5,130.9 245.0,129.8 245.5,128.7 246.0,127.7 246.5,126.7 247.0,125.7 247.5,124.8 248.0,124.0 248.5,123.2 249.0,122.5 249.5,121.7 250.0,121.0 250.5,120.3 251.0,119.7 251.5,119.0 252.0,118.4 252.5,117.8 253.0,117.2 253.5,116.6 254.0,116.0 254.5,115.4 255.0,114.9 255.5,114.3 256.0,113.7 256.5,113.1 257.0,112.5 257.5,111.8 258.0,111.2 258.5,110.5 259.0,109.8 259.5,109.2 260.0,108.5 260.5,107.8 261.0,107.2 261.5,106.5 262.0,105.9 262.5,105.4 263.0,104.8 263.5,104.3 264.0,103.8 264.5,103.4 265.0,103.1 265.5,102.7 266.0,102.3 266.5,102.0 267.0,101.6 267.5,101.3 268.0,101.0 268.5,100.6 269.0,100.4 269.5,100.1 270.0,99.9 270.5,99.6 271.0,99.5 271.5,99.3 272.0,99.2 272.5,99.2 273.0,99.2 273.5,99.3 274.0,99.3 274.5,99.5 275.0,99.6 275.5,99.8 276.0,100.0 276.5,100.3 277.0,100.6 277.5,100.9 278.0,101.2 278.5,101.5 279.0,101.9 279.5,102.3 280.0,102.7 280.5,103.0 281.0,103.5 281.5,104.0 282.0,104.6 282.5,105.3 283.0,106.0 283.5,106.8 284.0,107.7 284.5,108.6 285.0,109.6 285.5,110.6 286.0,111.9 286.5,113.3 287.0,114.7 287.5,116.2 288.0,117.6 288.5,118.9 289.0,120.0 289.5,121.0 290.0,122.0 290.5,122.9 291.0,123.9 291.5,125.0 292.0,126.1 292.5,127.5 293.0,129.1 293.5,130.9 294.0,132.9 294.5,135.1 295.0,137.3 295.5,139.7 296.0,142.3 296.5,145.0 L296.5,271.9 Z" fill="#FDE725" fill-opacity="0.5"/>
<path d="M95.0,267.7 L95.5,267.5 L96.0,267.4 L96.5,267.2 L97.0,267.1 L97.5,266.9 L98.0,266.7 L98.5,266.5 L99.0,266.4 L99.5,266.2 L100.0,266.0 L100.5,265.8 L101.0,265.6 L101.5,265.4 L102.0,265.2 L102.5,265.0 L103.0,264.8 L103.5,264.6 L104.0,264.3 L104.5,264.1 L105.0,263.9 L105.5,263.7 L106.0,263.4 L106.5,263.2 L107.0,263.0 L107.5,262.7 L108.0,262.5 L108.5,262.2 L109.0,262.0 L109.5,261.7 L110.0,261.5 L110.5,261.2 L111.0,260.9 L111.5,260.6 L112.0,260.4 L112.5,260.1 L113.0,259.8 L113.5,259.5 L114.0,259.2 L114.5,258.9 L115.0,258.6 L115.5,258.3 L116.0,257.9 L116.5,257.6 L117.0,257.3 L117.5,256.9 L118.0,256.6 L118.5,256.2 L119.0,255.9 L119.5,255.5 L120.0,255.1 L120.5,254.7 L121.0,254.3 L121.5,253.9 L122.0,253.5 L122.5,253.0 L123.0,252.6 L123.5,252.1 L124.0,251.6 L124.5,251.1 L125.0,250.6 L125.5,250.1 L126.0,249.6 L126.5,249.1 L127.0,248.6 L127.5,248.1 L128.0,247.5 L128.5,247.0 L129.0,246.5 L129.5,246.0 L130.0,245.4 L130.5,244.9 L131.0,244.4 L131.5,243.9 L132.0,243.4 L132.5,242.8 L133.0,242.3 L133.5,241.8 L134.0,241.2 L134.5,240.7 L135.0,240.2 L135.5,239.6 L136.0,239.1 L136.5,238.5 L137.0,238.0 L137.5,237.4 L138.0,236.9 L138.5,236.3 L139.0,235.8 L139.5,235.2 L140.0,234.6 L140.5,234.1 L141.0,233.5 L141.5,232.9 L142.0,232.3 L142.5,231.7 L143.0,231.1 L143.5,230.6 L144.0,230.0 L144.5,229.4 L145.0,228.8 L145.5,228.1 L146.0,227.5 L146.5,226.9 L147.0,226.3 L147.5,225.6 L148.0,225.0 L148.5,224.3 L149.0,223.7 L149.5,223.0 L150.0,222.4 L150.5,221.7 L151.0,221.0 L151.5,220.3 L152.0,219.6 L152.5,218.9 L153.0,218.1 L153.5,217.4 L154.0,216.6 L154.5,215.8 L155.0,215.1 L155.5,214.3 L156.0,213.5 L156.5,212.8 L157.0,212.0 L157.5,211.3 L158.0,210.6 L158.5,209.9 L159.0,209.2 L159.5,208.5 L160.0,207.9 L160.5,207.3 L161.0,206.6 L161.5,206.0 L162.0,205.4 L162.5,204.8 L163.0,204.2 L163.5,203.6 L164.0,203.0 L164.5,202.4 L165.0,201.8 L165.5,201.2 L166.0,200.5 L166.5,199.9 L167.0,199.3 L167.5,198.6 L168.0,198.0 L168.5,197.3 L169.0,196.7 L169.5,196.0 L170.0,195.3 L170.5,194.6 L171.0,194.0 L171.5,193.3 L172.0,192.6 L172.5,191.9 L173.0,191.2 L173.5,190.5 L174.0,189.8 L174.5,189.2 L175.0,188.5 L175.5,187.8 L176.0,187.2 L176.5,186.5 L177.0,185.8 L177.5,185.2 L178.0,184.6 L178.5,183.9 L179.0,183.3 L179.5,182.7 L180.0,182.1 L180.5,181.5 L181.0,180.9 L181.5,180.2 L182.0,179.6 L182.5,179.0 L183.0,178.4 L183.5,177.8 L184.0,177.1 L184.5,176.5 L185.0,175.9 L185.5,175.2 L186.0,174.5 L186.5,173.9 L187.0,173.2 L187.5,172.5 L188.0,171.7 L188.5,171.0 L189.0,170.2 L189.5,169.5 L190.0,168.7 L190.5,168.0 L191.0,167.2 L191.5,166.5 L192.0,165.8 L192.5,165.1 L193.0,164.4 L193.5,163.7 L194.0,163.0 L194.5,162.2 L195.0,161.5 L195.5,160.8 L196.0,160.0 L196.5,159.4 L197.0,158.7 L197.5,158.2 L198.0,157.7 L198.5,157.2 L199.0,156.9 L199.5,156.6 L200.0,156.3 L200.5,156.1 L201.0,155.8 L201.5,155.6 L202.0,155.4 L202.5,155.2 L203.0,155.0 L203.5,154.9 L204.0,154.7 L204.5,154.6 L205.0,154.5 L205.5,154.4 L206.0,154.3 L206.5,154.2 L207.0,154.2 L207.5,154.1 L208.0,154.1 L208.5,154.0 L209.0,154.0 L209.5,153.9 L210.0,153.9 L210.5,153.8 L211.0,153.7 L211.5,153.7 L212.0,153.6 L212.5,153.4 L213.0,153.2 L213.5,153.0 L214.0,152.8 L214.5,152.5 L215.0,152.2 L215.5,151.9 L216.0,151.6 L216.5,151.2 L217.0,150.8 L217.5,150.3 L218.0,149.9 L218.5,149.4 L219.0,148.7 L219.5,148.0 L220.0,147.1 L220.5,146.1 L221.0,145.1 L221.5,144.0 L222.0,142.9 L222.5,141.9 L223.0,140.7 L223.5,139.5 L224.0,138.2 L224.5,136.9 L225.0,135.6 L225.5,134.2 L226.0,132.8 L226.5,131.2 L227.0,129.6 L227.5,128.1 L228.0,126.5 L228.5,125.0 L229.0,123.6 L229.5,122.2 L230.0,120.9 L230.5,119.6 L231.0,118.3 L231.5,116.9 L232.0,115.6 L232.5,114.2 L233.0,112.7 L233.5,111.1 L234.0,109.4 L234.5,107.7 L235.0,105.9 L235.5,104.0 L236.0,102.3 L236.5,100.5 L237.0,98.9 L237.5,97.4 L238.0,96.0 L238.5,94.6 L239.0,93.3 L239.5,92.1 L240.0,90.9 L240.5,89.7 L241.0,88.6 L241.5,87.6 L242.0,86.6 L242.5,85.7 L243.0,84.9 L243.5,84.1 L244.0,83.3 L244.5,82.6 L245.0,81.9 L245.5,81.3 L246.0,80.7 L246.5,80.1 L247.0,79.6 L247.5,79.1 L248.0,78.6 L248.5,78.1 L249.0,77.7 L249.5,77.2 L250.0,76.8 L250.5,76.5 L251.0,76.2 L251.5,75.9 L252.0,75.8 L252.5,75.8 L253.0,75.7 L253.5,75.7 L254.0,75.6 L254.5,75.6 L255.0,75.5 L255.5,75.5 L256.0,75.5 L256.5,75.5 L257.0,75.5 L257.5,75.6 L258.0,75.7 L258.5,75.9 L259.0,76.1 L259.5,76.4 L260.0,76.7 L260.5,77.0 L261.0,77.3 L261.5,77.6 L262.0,78.0 L262.5,78.3 L263.0,78.7 L263.5,79.2 L264.0,79.7 L264.5,80.2 L265.0,80.8 L265.5,81.4 L266.0,82.0 L266.5,82.6 L267.0,83.4 L267.5,84.2 L268.0,85.1 L268.5,86.1 L269.0,87.1 L269.5,88.2 L270.0,89.3 L270.5,90.5 L271.0,91.6 L271.5,92.8 L272.0,94.1 L272.5,95.5 L273.0,96.9 L273.5,98.4 L274.0,99.9 L274.5,101.4 L275.0,102.9 L275.5,104.4 L276.0,105.8 L276.5,107.2 L277.0,108.7 L277.5,110.2 L278.0,111.7 L278.5,113.4 L279.0,115.0 L279.5,116.7 L280.0,118.5 L280.5,120.3 L281.0,122.1 L281.5,124.0 L282.0,126.0 L282.5,128.0 L283.0,130.2 L283.5,132.4 L284.0,134.7 L284.5,137.1 L285.0,139.5 L285.5,142.0 L286.0,144.4 L286.5,146.7 L287.0,149.1 L287.5,151.5 L288.0,153.8 L288.5,156.2 L289.0,158.6 L289.5,161.0 L290.0,163.3 L290.5,165.5 L291.0,167.7 L291.5,169.7 L292.0,171.6 L292.5,173.4 L293.0,175.2 L293.5,177.0 L294.0,179.0 L294.5,181.1 L295.0,183.5 L295.5,186.2 L296.0,189.5 L296.5,193.1" fill="none" stroke="#000" stroke-width="1.1"/>
<path d="M410.0,268.6 L410.0,255.0 410.5,254.4 411.0,253.5 411.5,252.3 412.0,250.8 412.5,249.0 413.0,247.1 413.5,245.0 414.0,242.8 414.5,240.4 415.0,238.0 415.5,235.3 416.0,231.9 416.5,228.2 417.0,224.0 417.5,219.5 418.0,214.7 418.5,209.8 419.0,204.8 419.5,199.9 420.0,195.0 420.5,190.0 421.0,184.7 421.5,179.1 422.0,173.4 422.5,167.5 423.0,161.7 423.5,155.9 424.0,150.3 424.5,144.9 425.0,139.8 425.5,135.1 426.0,130.7 426.5,126.6 427.0,122.7 427.5,118.8 428.0,115.0 428.5,111.1 429.0,107.1 429.5,103.2 430.0,99.4 430.5,96.0 431.0,93.0 431.5,90.4 432.0,88.0 432.5,85.7 433.0,83.6 433.5,81.7 434.0,79.8 434.5,78.0 435.0,76.3 435.5,74.8 436.0,73.4 436.5,72.0 437.0,70.6 437.5,69.2 438.0,67.6 438.5,66.0 439.0,64.2 439.5,62.4 440.0,60.5 440.5,58.5 441.0,56.6 441.5,54.6 442.0,52.7 442.5,50.9 443.0,49.1 443.5,47.3 444.0,45.4 444.5,43.6 445.0,41.8 445.5,40.1 446.0,38.5 446.5,37.1 447.0,36.0 447.5,35.0 448.0,34.0 448.5,33.0 449.0,32.1 449.5,31.2 450.0,30.3 450.5,29.6 451.0,29.0 451.5,28.5 452.0,28.1 452.5,27.9 453.0,27.9 453.5,28.0 454.0,28.3 454.5,28.6 455.0,29.1 455.5,29.6 456.0,30.2 456.5,30.8 457.0,31.5 457.5,32.3 458.0,33.0 458.5,33.9 459.0,34.9 459.5,36.1 460.0,37.5 460.5,39.1 461.0,40.7 461.5,42.5 462.0,44.3 462.5,46.1 463.0,48.0 463.5,50.0 464.0,52.2 464.5,54.6 465.0,57.2 465.5,59.9 466.0,62.7 466.5,65.5 467.0,68.4 467.5,71.3 468.0,74.2 468.5,77.1 469.0,79.8 469.5,82.5 470.0,85.0 470.5,87.5 471.0,89.9 471.5,92.4 472.0,94.9 472.5,97.4 473.0,99.9 473.5,102.3 474.0,104.8 474.5,107.2 475.0,109.6 475.5,111.9 476.0,114.2 476.5,116.4 477.0,118.6 477.5,120.7 478.0,122.7 478.5,124.7 479.0,126.6 479.5,128.3 480.0,130.0 480.5,131.6 481.0,133.2 481.5,134.8 482.0,136.3 482.5,137.9 483.0,139.4 483.5,140.9 484.0,142.3 484.5,143.8 485.0,145.2 485.5,146.5 486.0,147.8 486.5,149.1 487.0,150.3 487.5,151.5 488.0,152.7 488.5,153.8 489.0,154.8 489.5,155.8 490.0,156.8 490.5,157.7 491.0,158.5 491.5,159.3 492.0,160.0 492.5,160.7 493.0,161.4 493.5,162.0 494.0,162.7 494.5,163.4 495.0,164.0 495.5,164.7 496.0,165.3 496.5,165.9 497.0,166.5 497.5,167.1 498.0,167.7 498.5,168.2 499.0,168.7 499.5,169.2 500.0,169.6 500.5,170.1 501.0,170.4 501.5,170.8 502.0,171.1 502.5,171.4 503.0,171.6 503.5,171.8 504.0,171.9 504.5,172.0 505.0,172.0 505.5,172.0 506.0,172.0 506.5,172.0 507.0,172.0 507.5,171.9 508.0,171.9 508.5,171.9 509.0,171.8 509.5,171.8 510.0,171.7 510.5,171.7 511.0,171.6 511.5,171.5 512.0,171.5 512.5,171.4 513.0,171.3 513.5,171.2 514.0,171.2 514.5,171.1 515.0,171.0 515.5,170.9 516.0,170.8 516.5,170.7 517.0,170.6 517.5,170.5 518.0,170.4 518.5,170.3 519.0,170.2 519.5,170.1 520.0,170.0 520.5,169.9 521.0,169.7 521.5,169.6 522.0,169.4 522.5,169.2 523.0,169.0 523.5,168.8 524.0,168.5 524.5,168.3 525.0,168.0 525.5,167.7 526.0,167.5 526.5,167.2 527.0,166.9 527.5,166.6 528.0,166.2 528.5,165.9 529.0,165.6 529.5,165.3 530.0,165.0 530.5,164.6 531.0,164.3 531.5,164.0 532.0,163.7 532.5,163.4 533.0,163.1 533.5,162.8 534.0,162.5 534.5,162.3 535.0,162.0 535.5,161.7 536.0,161.5 536.5,161.2 537.0,160.9 537.5,160.5 538.0,160.2 538.5,159.9 539.0,159.6 539.5,159.2 540.0,158.9 540.5,158.6 541.0,158.3 541.5,158.1 542.0,157.8 542.5,157.6 543.0,157.4 543.5,157.2 544.0,157.0 544.5,156.9 545.0,156.8 545.5,156.8 546.0,156.8 546.5,156.8 547.0,156.8 547.5,156.8 548.0,156.9 548.5,156.9 549.0,157.0 549.5,157.0 550.0,157.1 550.5,157.1 551.0,157.2 551.5,157.2 552.0,157.3 552.5,157.4 553.0,157.5 553.5,157.6 554.0,157.7 554.5,157.8 555.0,157.9 555.5,158.0 556.0,158.1 556.5,158.2 557.0,158.3 557.5,158.4 558.0,158.5 558.5,158.6 559.0,158.8 559.5,158.9 560.0,159.0 560.5,159.1 561.0,159.3 561.5,159.5 562.0,159.6 562.5,159.8 563.0,160.1 563.5,160.3 564.0,160.6 564.5,160.8 565.0,161.1 565.5,161.4 566.0,161.7 566.5,162.0 567.0,162.4 567.5,162.7 568.0,163.1 568.5,163.5 569.0,163.9 569.5,164.3 570.0,164.7 570.5,165.1 571.0,165.5 571.5,166.0 572.0,166.4 572.5,166.9 573.0,167.4 573.5,168.0 574.0,168.6 574.5,169.3 575.0,170.0 575.5,170.8 576.0,171.7 576.5,172.6 577.0,173.5 577.5,174.5 578.0,175.5 578.5,176.5 579.0,177.6 579.5,178.6 580.0,179.7 580.5,180.8 581.0,181.8 581.5,182.9 582.0,184.0 582.5,185.0 583.0,186.1 583.5,187.1 584.0,188.1 584.5,189.1 585.0,190.0 585.5,190.9 586.0,191.8 586.5,192.8 587.0,193.7 587.5,194.6 588.0,195.6 588.5,196.5 589.0,197.4 589.5,198.3 590.0,199.3 590.5,200.2 591.0,201.1 591.5,202.0 592.0,202.9 592.5,203.8 593.0,204.6 593.5,205.5 594.0,206.4 594.5,207.2 595.0,208.0 595.5,208.8 596.0,209.6 596.5,210.4 597.0,211.1 597.5,211.9 598.0,212.7 598.5,213.4 599.0,214.1 599.5,214.9 600.0,215.6 600.5,216.3 601.0,217.0 601.5,217.7 602.0,218.4 602.5,219.2 603.0,219.9 603.5,220.6 604.0,221.2 604.5,221.9 605.0,222.6 605.5,223.3 606.0,224.0 606.5,224.7 607.0,225.4 607.5,226.1 608.0,226.8 608.5,227.5 609.0,228.2 609.5,228.9 610.0,229.6 610.5,230.2 611.0,230.9 611.5,231.6 612.0,232.2 612.5,232.9 613.0,233.5 613.5,234.1 614.0,234.8 614.5,235.4 615.0,236.0 615.5,236.6 616.0,237.2 616.5,237.8 617.0,238.4 617.5,239.0 618.0,239.6 618.5,240.2 619.0,240.8 619.5,241.3 620.0,241.9 620.5,242.5 621.0,243.0 621.5,243.5 622.0,244.1 622.5,244.6 623.0,245.1 623.5,245.6 624.0,246.1 624.5,246.5 625.0,247.0 625.5,247.4 626.0,247.9 626.5,248.3 627.0,248.7 627.5,249.1 628.0,249.5 628.5,249.9 629.0,250.3 629.5,250.6 630.0,251.0 630.5,251.4 631.0,251.7 631.5,252.1 632.0,252.4 632.5,252.8 633.0,253.1 633.5,253.5 634.0,253.8 634.5,254.2 635.0,254.5 635.5,254.8 636.0,255.2 636.5,255.5 637.0,255.9 637.5,256.2 638.0,256.6 638.5,256.9 639.0,257.2 639.5,257.6 640.0,257.9 640.5,258.2 641.0,258.5 641.5,258.8 642.0,259.1 642.5,259.4 643.0,259.7 643.5,259.9 644.0,260.2 644.5,260.5 645.0,260.7 645.5,260.9 646.0,261.2 646.5,261.4 647.0,261.6 647.5,261.8 648.0,262.0 L648.0,268.6 Z" fill="#440154" fill-opacity="0.5"/>
<path d="M410.0,268.6 L410.0,262.0 410.5,262.0 411.0,261.9 411.5,261.9 412.0,261.8 412.5,261.6 413.0,261.4 413.5,261.3 414.0,261.0 414.5,260.8 415.0,260.5 415.5,260.2 416.0,259.9 416.5,259.5 417.0,259.1 417.5,258.7 418.0,258.3 418.5,257.8 419.0,257.4 419.5,256.9 420.0,256.3 420.5,255.8 421.0,255.2 421.5,254.6 422.0,254.0 422.5,253.4 423.0,252.8 423.5,252.1 424.0,251.4 424.5,250.7 425.0,250.0 425.5,249.1 426.0,248.0 426.5,246.6 427.0,245.0 427.5,243.2 428.0,241.1 428.5,238.9 429.0,236.5 429.5,233.9 430.0,231.2 430.5,228.4 431.0,225.5 431.5,222.4 432.0,219.3 432.5,216.2 433.0,213.0 433.5,209.7 434.0,206.5 434.5,203.2 435.0,200.0 435.5,196.6 436.0,192.8 436.5,188.7 437.0,184.4 437.5,179.9 438.0,175.2 438.5,170.3 439.0,165.5 439.5,160.6 440.0,155.7 440.5,150.9 441.0,146.3 441.5,141.8 442.0,137.6 442.5,133.6 443.0,130.0 443.5,126.6 444.0,123.4 444.5,120.4 445.0,117.4 445.5,114.6 446.0,111.8 446.5,109.1 447.0,106.4 447.5,103.8 448.0,101.1 448.5,98.4 449.0,95.7 449.5,92.9 450.0,90.0 450.5,87.1 451.0,84.1 451.5,81.1 452.0,78.0 452.5,75.0 453.0,72.0 453.5,69.0 454.0,66.0 454.5,63.0 455.0,60.0 455.5,57.0 456.0,53.9 456.5,50.7 457.0,47.6 457.5,44.5 458.0,41.4 458.5,38.5 459.0,35.7 459.5,33.1 460.0,30.8 460.5,28.6 461.0,26.5 461.5,24.5 462.0,22.5 462.5,20.7 463.0,18.9 463.5,17.4 464.0,16.0 464.5,14.9 465.0,14.0 465.5,13.3 466.0,12.6 466.5,12.0 467.0,11.4 467.5,10.9 468.0,10.5 468.5,10.2 469.0,10.0 469.5,10.0 470.0,10.1 470.5,10.3 471.0,10.7 471.5,11.1 472.0,11.6 472.5,12.1 473.0,12.7 473.5,13.3 474.0,14.0 474.5,14.8 475.0,15.9 475.5,17.2 476.0,18.7 476.5,20.3 477.0,21.9 477.5,23.5 478.0,25.0 478.5,26.5 479.0,28.0 479.5,29.5 480.0,31.0 480.5,32.5 481.0,34.1 481.5,35.7 482.0,37.4 482.5,39.1 483.0,40.9 483.5,42.9 484.0,45.0 484.5,47.2 485.0,49.3 485.5,51.3 486.0,53.2 486.5,54.7 487.0,56.0 487.5,57.2 488.0,58.3 488.5,59.3 489.0,60.3 489.5,61.2 490.0,62.0 490.5,62.9 491.0,63.8 491.5,64.7 492.0,65.6 492.5,66.5 493.0,67.3 493.5,68.2 494.0,69.0 494.5,69.8 495.0,70.6 495.5,71.4 496.0,72.2 496.5,73.0 497.0,73.8 497.5,74.6 498.0,75.4 498.5,76.2 499.0,76.9 499.5,77.7 500.0,78.5 500.5,79.3 501.0,80.1 501.5,81.0 502.0,81.8 502.5,82.6 503.0,83.5 503.5,84.3 504.0,85.1 504.5,85.9 505.0,86.7 505.5,87.6 506.0,88.4 506.5,89.2 507.0,90.0 507.5,90.9 508.0,91.7 508.5,92.6 509.0,93.5 509.5,94.5 510.0,95.4 510.5,96.4 511.0,97.5 511.5,98.6 512.0,99.7 512.5,101.0 513.0,102.4 513.5,103.8 514.0,105.2 514.5,106.7 515.0,108.1 515.5,109.6 516.0,111.0 516.5,112.3 517.0,113.6 517.5,114.8 518.0,115.9 518.5,117.0 519.0,118.0 519.5,119.1 520.0,120.1 520.5,121.2 521.0,122.2 521.5,123.1 522.0,124.0 522.5,124.9 523.0,125.7 523.5,126.4 524.0,127.0 524.5,127.6 525.0,128.0 525.5,128.4 526.0,128.8 526.5,129.1 527.0,129.5 527.5,129.8 528.0,130.1 528.5,130.3 529.0,130.6 529.5,130.7 530.0,130.9 530.5,131.0 531.0,131.0 531.5,131.0 532.0,130.9 532.5,130.8 533.0,130.6 533.5,130.4 534.0,130.1 534.5,129.9 535.0,129.5 535.5,129.2 536.0,128.9 536.5,128.5 537.0,128.1 537.5,127.7 538.0,127.2 538.5,126.4 539.0,125.6 539.5,124.6 540.0,123.5 540.5,122.5 541.0,121.5 541.5,120.5 542.0,119.7 542.5,119.0 543.0,118.5 543.5,118.1 544.0,117.8 544.5,117.4 545.0,117.1 545.5,116.8 546.0,116.5 546.5,116.3 547.0,116.0 547.5,115.8 548.0,115.7 548.5,115.6 549.0,115.5 549.5,115.4 550.0,115.4 550.5,115.5 551.0,115.7 551.5,115.9 552.0,116.2 552.5,116.6 553.0,117.0 553.5,117.5 554.0,118.0 554.5,118.5 555.0,119.0 555.5,119.6 556.0,120.4 556.5,121.3 557.0,122.3 557.5,123.4 558.0,124.6 558.5,125.9 559.0,127.2 559.5,128.6 560.0,130.0 560.5,131.5 561.0,133.3 561.5,135.2 562.0,137.2 562.5,139.4 563.0,141.6 563.5,143.9 564.0,146.2 564.5,148.5 565.0,150.7 565.5,152.9 566.0,155.0 566.5,157.0 567.0,159.1 567.5,161.1 568.0,163.2 568.5,165.2 569.0,167.3 569.5,169.4 570.0,171.4 570.5,173.4 571.0,175.4 571.5,177.4 572.0,179.3 572.5,181.2 573.0,183.1 573.5,184.9 574.0,186.7 574.5,188.4 575.0,190.0 575.5,191.6 576.0,193.2 576.5,194.8 577.0,196.4 577.5,197.9 578.0,199.5 578.5,201.0 579.0,202.6 579.5,204.1 580.0,205.6 580.5,207.1 581.0,208.5 581.5,210.0 582.0,211.4 582.5,212.8 583.0,214.1 583.5,215.5 584.0,216.8 584.5,218.1 585.0,219.4 585.5,220.6 586.0,221.8 586.5,222.9 587.0,224.1 587.5,225.1 588.0,226.2 588.5,227.2 589.0,228.2 589.5,229.1 590.0,230.0 590.5,230.9 591.0,231.7 591.5,232.6 592.0,233.4 592.5,234.3 593.0,235.1 593.5,235.9 594.0,236.7 594.5,237.5 595.0,238.3 595.5,239.1 596.0,239.9 596.5,240.6 597.0,241.4 597.5,242.1 598.0,242.8 598.5,243.5 599.0,244.2 599.5,244.9 600.0,245.6 600.5,246.2 601.0,246.9 601.5,247.5 602.0,248.1 602.5,248.7 603.0,249.2 603.5,249.8 604.0,250.3 604.5,250.8 605.0,251.3 605.5,251.8 606.0,252.2 606.5,252.6 607.0,253.1 607.5,253.4 608.0,253.8 608.5,254.1 609.0,254.4 609.5,254.7 610.0,255.0 610.5,255.3 611.0,255.5 611.5,255.7 612.0,256.0 612.5,256.2 613.0,256.5 613.5,256.7 614.0,256.9 614.5,257.2 615.0,257.4 615.5,257.6 616.0,257.9 616.5,258.1 617.0,258.3 617.5,258.5 618.0,258.8 618.5,259.0 619.0,259.2 619.5,259.4 620.0,259.6 620.5,259.8 621.0,260.0 621.5,260.2 622.0,260.4 622.5,260.6 623.0,260.8 623.5,261.0 624.0,261.2 624.5,261.4 625.0,261.6 625.5,261.7 626.0,261.9 626.5,262.1 627.0,262.2 627.5,262.4 628.0,262.6 628.5,262.7 629.0,262.9 629.5,263.0 630.0,263.2 630.5,263.3 631.0,263.5 631.5,263.6 632.0,263.8 632.5,263.9 633.0,264.0 633.5,264.1 634.0,264.3 634.5,264.4 635.0,264.5 635.5,264.6 636.0,264.7 636.5,264.8 637.0,264.9 637.5,265.0 638.0,265.1 638.5,265.2 639.0,265.3 639.5,265.3 640.0,265.4 640.5,265.5 641.0,265.5 641.5,265.6 642.0,265.7 642.5,265.7 643.0,265.8 643.5,265.8 644.0,265.8 644.5,265.9 645.0,265.9 645.5,265.9 646.0,266.0 646.5,266.0 647.0,266.0 647.5,266.0 648.0,266.0 L648.0,268.6 Z" fill="#443A83" fill-opacity="0.5"/>
<path d="M410.0,268.6 L410.0,262.0 410.5,262.0 411.0,261.9 411.5,261.8 412.0,261.6 412.5,261.4 413.0,261.1 413.5,260.8 414.0,260.4 414.5,260.0 415.0,259.6 415.5,259.1 416.0,258.6 416.5,258.1 417.0,257.5 417.5,256.9 418.0,256.3 418.5,255.6 419.0,254.9 419.5,254.2 420.0,253.4 420.5,252.7 421.0,251.9 421.5,251.1 422.0,250.2 422.5,249.4 423.0,248.5 423.5,247.7 424.0,246.8 424.5,245.9 425.0,245.0 425.5,244.0 426.0,242.9 426.5,241.7 427.0,240.4 427.5,239.0 428.0,237.5 428.5,235.8 429.0,234.1 429.5,232.3 430.0,230.4 430.5,228.4 431.0,226.3 431.5,224.1 432.0,221.8 432.5,219.5 433.0,217.1 433.5,214.6 434.0,212.1 434.5,209.5 435.0,206.9 435.5,204.2 436.0,201.4 436.5,198.6 437.0,195.8 437.5,192.9 438.0,190.0 438.5,186.9 439.0,183.4 439.5,179.6 440.0,175.6 440.5,171.3 441.0,166.8 441.5,162.2 442.0,157.5 442.5,152.7 443.0,147.8 443.5,142.9 444.0,138.1 444.5,133.4 445.0,128.8 445.5,124.3 446.0,120.0 446.5,115.8 447.0,111.4 447.5,106.9 448.0,102.5 448.5,98.0 449.0,93.7 449.5,89.5 450.0,85.4 450.5,81.6 451.0,78.0 451.5,74.8 452.0,72.0 452.5,69.4 453.0,66.9 453.5,64.6 454.0,62.3 454.5,60.1 455.0,58.1 455.5,56.1 456.0,54.3 456.5,52.7 457.0,51.1 457.5,49.7 458.0,48.5 458.5,47.4 459.0,46.3 459.5,45.2 460.0,44.2 460.5,43.3 461.0,42.5 461.5,41.7 462.0,41.1 462.5,40.5 463.0,40.0 463.5,39.6 464.0,39.1 464.5,38.7 465.0,38.3 465.5,37.9 466.0,37.6 466.5,37.4 467.0,37.2 467.5,37.0 468.0,37.0 468.5,37.0 469.0,37.2 469.5,37.4 470.0,37.7 470.5,38.1 471.0,38.5 471.5,39.0 472.0,39.6 472.5,40.1 473.0,40.7 473.5,41.4 474.0,42.0 474.5,42.7 475.0,43.6 475.5,44.6 476.0,45.8 476.5,47.1 477.0,48.4 477.5,49.9 478.0,51.4 478.5,53.0 479.0,54.7 479.5,56.3 480.0,58.0 480.5,59.8 481.0,61.7 481.5,63.8 482.0,66.0 482.5,68.4 483.0,70.8 483.5,73.3 484.0,75.8 484.5,78.4 485.0,80.9 485.5,83.5 486.0,86.0 486.5,88.4 487.0,90.7 487.5,92.9 488.0,95.0 488.5,97.0 489.0,99.1 489.5,101.1 490.0,103.1 490.5,105.2 491.0,107.2 491.5,109.2 492.0,111.2 492.5,113.2 493.0,115.1 493.5,116.9 494.0,118.7 494.5,120.5 495.0,122.1 495.5,123.7 496.0,125.2 496.5,126.5 497.0,127.8 497.5,129.0 498.0,130.0 498.5,131.0 499.0,131.9 499.5,132.9 500.0,133.8 500.5,134.8 501.0,135.7 501.5,136.6 502.0,137.5 502.5,138.4 503.0,139.2 503.5,140.1 504.0,140.9 504.5,141.6 505.0,142.4 505.5,143.1 506.0,143.8 506.5,144.4 507.0,145.0 507.5,145.5 508.0,146.0 508.5,146.5 509.0,146.8 509.5,147.2 510.0,147.5 510.5,147.7 511.0,147.9 511.5,148.0 512.0,148.0 512.5,148.0 513.0,148.0 513.5,148.0 514.0,148.0 514.5,148.0 515.0,148.0 515.5,148.0 516.0,148.0 516.5,148.0 517.0,148.0 517.5,148.0 518.0,148.0 518.5,148.0 519.0,148.0 519.5,148.0 520.0,148.0 520.5,148.0 521.0,148.0 521.5,148.0 522.0,148.0 522.5,148.0 523.0,148.0 523.5,148.0 524.0,148.0 524.5,148.0 525.0,148.0 525.5,148.0 526.0,148.0 526.5,148.0 527.0,148.0 527.5,148.0 528.0,148.0 528.5,148.0 529.0,147.9 529.5,147.8 530.0,147.7 530.5,147.5 531.0,147.3 531.5,147.1 532.0,146.8 532.5,146.5 533.0,146.3 533.5,146.0 534.0,145.7 534.5,145.3 535.0,145.0 535.5,144.7 536.0,144.4 536.5,144.1 537.0,143.8 537.5,143.5 538.0,143.3 538.5,143.1 539.0,142.8 539.5,142.7 540.0,142.5 540.5,142.4 541.0,142.3 541.5,142.3 542.0,142.3 542.5,142.3 543.0,142.3 543.5,142.3 544.0,142.3 544.5,142.3 545.0,142.4 545.5,142.4 546.0,142.4 546.5,142.4 547.0,142.4 547.5,142.5 548.0,142.5 548.5,142.5 549.0,142.5 549.5,142.6 550.0,142.6 550.5,142.6 551.0,142.7 551.5,142.7 552.0,142.7 552.5,142.8 553.0,142.8 553.5,142.9 554.0,142.9 554.5,143.0 555.0,143.0 555.5,143.0 556.0,143.1 556.5,143.2 557.0,143.2 557.5,143.3 558.0,143.4 558.5,143.5 559.0,143.6 559.5,143.7 560.0,143.8 560.5,143.9 561.0,144.1 561.5,144.2 562.0,144.4 562.5,144.6 563.0,144.7 563.5,144.9 564.0,145.2 564.5,145.4 565.0,145.6 565.5,145.9 566.0,146.2 566.5,146.5 567.0,147.0 567.5,147.7 568.0,148.7 568.5,149.8 569.0,151.0 569.5,152.3 570.0,153.7 570.5,155.0 571.0,156.4 571.5,158.1 572.0,159.9 572.5,161.8 573.0,163.8 573.5,165.8 574.0,167.6 574.5,169.4 575.0,170.9 575.5,172.5 576.0,174.0 576.5,175.5 577.0,176.9 577.5,178.4 578.0,179.8 578.5,181.2 579.0,182.5 579.5,183.8 580.0,185.1 580.5,186.4 581.0,187.6 581.5,188.8 582.0,190.0 582.5,191.1 583.0,192.3 583.5,193.4 584.0,194.4 584.5,195.5 585.0,196.5 585.5,197.5 586.0,198.5 586.5,199.5 587.0,200.5 587.5,201.4 588.0,202.4 588.5,203.3 589.0,204.2 589.5,205.1 590.0,206.0 590.5,206.9 591.0,207.8 591.5,208.6 592.0,209.5 592.5,210.3 593.0,211.2 593.5,212.0 594.0,212.8 594.5,213.6 595.0,214.4 595.5,215.2 596.0,216.0 596.5,216.8 597.0,217.5 597.5,218.3 598.0,219.0 598.5,219.8 599.0,220.5 599.5,221.3 600.0,222.0 600.5,222.7 601.0,223.5 601.5,224.2 602.0,224.9 602.5,225.6 603.0,226.3 603.5,227.1 604.0,227.8 604.5,228.5 605.0,229.2 605.5,229.9 606.0,230.5 606.5,231.2 607.0,231.9 607.5,232.6 608.0,233.2 608.5,233.8 609.0,234.5 609.5,235.1 610.0,235.7 610.5,236.3 611.0,236.9 611.5,237.4 612.0,238.0 612.5,238.5 613.0,239.1 613.5,239.6 614.0,240.2 614.5,240.7 615.0,241.2 615.5,241.7 616.0,242.2 616.5,242.7 617.0,243.2 617.5,243.7 618.0,244.2 618.5,244.7 619.0,245.1 619.5,245.6 620.0,246.0 620.5,246.5 621.0,246.9 621.5,247.3 622.0,247.8 622.5,248.2 623.0,248.5 623.5,248.9 624.0,249.3 624.5,249.7 625.0,250.0 625.5,250.3 626.0,250.7 626.5,251.0 627.0,251.3 627.5,251.6 628.0,251.9 628.5,252.2 629.0,252.5 629.5,252.8 630.0,253.1 630.5,253.4 631.0,253.7 631.5,253.9 632.0,254.2 632.5,254.5 633.0,254.7 633.5,255.0 634.0,255.2 634.5,255.5 635.0,255.7 635.5,256.0 636.0,256.2 636.5,256.4 637.0,256.7 637.5,256.9 638.0,257.1 638.5,257.3 639.0,257.6 639.5,257.8 640.0,258.0 640.5,258.2 641.0,258.4 641.5,258.6 642.0,258.8 642.5,259.0 643.0,259.2 643.5,259.4 644.0,259.6 644.5,259.8 645.0,260.0 645.5,260.2 646.0,260.3 646.5,260.5 647.0,260.7 647.5,260.8 648.0,261.0 L648.0,268.6 Z" fill="#31688E" fill-opacity="0.5"/>
<path d="M410.0,268.6 L410.0,262.0 410.5,262.0 411.0,261.9 411.5,261.8 412.0,261.6 412.5,261.4 413.0,261.1 413.5,260.8 414.0,260.5 414.5,260.1 415.0,259.7 415.5,259.2 416.0,258.7 416.5,258.2 417.0,257.6 417.5,257.0 418.0,256.4 418.5,255.7 419.0,255.0 419.5,254.3 420.0,253.5 420.5,252.8 421.0,252.0 421.5,251.2 422.0,250.3 422.5,249.5 423.0,248.6 423.5,247.7 424.0,246.8 424.5,245.9 425.0,245.0 425.5,244.0 426.0,242.8 426.5,241.5 427.0,240.0 427.5,238.3 428.0,236.5 428.5,234.6 429.0,232.6 429.5,230.4 430.0,228.2 430.5,225.8 431.0,223.4 431.5,220.9 432.0,218.3 432.5,215.6 433.0,212.9 433.5,210.1 434.0,207.3 434.5,204.5 435.0,201.6 435.5,198.7 436.0,195.8 436.5,192.9 437.0,190.0 437.5,187.0 438.0,183.8 438.5,180.4 439.0,176.9 439.5,173.2 440.0,169.4 440.5,165.5 441.0,161.5 441.5,157.5 442.0,153.5 442.5,149.5 443.0,145.4 443.5,141.5 444.0,137.5 444.5,133.7 445.0,130.0 445.5,126.3 446.0,122.7 446.5,119.0 447.0,115.3 447.5,111.7 448.0,108.0 448.5,104.4 449.0,100.8 449.5,97.2 450.0,93.7 450.5,90.2 451.0,86.7 451.5,83.3 452.0,80.0 452.5,76.7 453.0,73.3 453.5,69.9 454.0,66.6 454.5,63.4 455.0,60.4 455.5,57.5 456.0,55.0 456.5,52.8 457.0,50.9 457.5,49.1 458.0,47.4 458.5,45.4 459.0,43.2 459.5,40.2 460.0,36.6 460.5,33.3 461.0,31.0 461.5,29.6 462.0,28.4 462.5,27.3 463.0,26.4 463.5,25.6 464.0,25.0 464.5,24.4 465.0,24.0 465.5,23.6 466.0,23.3 466.5,23.0 467.0,22.7 467.5,22.5 468.0,22.2 468.5,22.1 469.0,22.0 469.5,21.9 470.0,21.9 470.5,22.0 471.0,22.2 471.5,22.4 472.0,22.7 472.5,23.0 473.0,23.3 473.5,23.7 474.0,24.0 474.5,24.4 475.0,24.8 475.5,25.3 476.0,25.9 476.5,26.5 477.0,27.1 477.5,27.8 478.0,28.5 478.5,29.3 479.0,30.0 479.5,30.8 480.0,31.5 480.5,32.3 481.0,33.2 481.5,34.1 482.0,35.1 482.5,36.1 483.0,37.3 483.5,38.6 484.0,40.0 484.5,41.9 485.0,44.1 485.5,46.6 486.0,49.2 486.5,51.8 487.0,54.3 487.5,56.9 488.0,59.6 488.5,62.3 489.0,65.1 489.5,67.8 490.0,70.4 490.5,72.8 491.0,75.0 491.5,77.1 492.0,79.1 492.5,81.1 493.0,83.1 493.5,85.0 494.0,86.9 494.5,88.7 495.0,90.5 495.5,92.2 496.0,93.9 496.5,95.5 497.0,97.1 497.5,98.6 498.0,100.0 498.5,101.4 499.0,102.7 499.5,103.9 500.0,105.0 500.5,106.1 501.0,107.1 501.5,108.1 502.0,109.1 502.5,110.1 503.0,111.0 503.5,112.0 504.0,112.9 504.5,113.8 505.0,114.6 505.5,115.4 506.0,116.3 506.5,117.1 507.0,117.8 507.5,118.6 508.0,119.3 508.5,120.1 509.0,120.8 509.5,121.4 510.0,122.1 510.5,122.8 511.0,123.4 511.5,124.0 512.0,124.6 512.5,125.2 513.0,125.8 513.5,126.4 514.0,126.9 514.5,127.5 515.0,128.0 515.5,128.5 516.0,129.1 516.5,129.6 517.0,130.1 517.5,130.6 518.0,131.1 518.5,131.7 519.0,132.2 519.5,132.7 520.0,133.2 520.5,133.7 521.0,134.1 521.5,134.6 522.0,135.1 522.5,135.5 523.0,135.9 523.5,136.3 524.0,136.7 524.5,137.1 525.0,137.5 525.5,137.8 526.0,138.2 526.5,138.5 527.0,138.8 527.5,139.0 528.0,139.3 528.5,139.5 529.0,139.7 529.5,139.9 530.0,140.0 530.5,140.1 531.0,140.2 531.5,140.4 532.0,140.5 532.5,140.6 533.0,140.7 533.5,140.8 534.0,140.9 534.5,140.9 535.0,141.0 535.5,141.0 536.0,141.0 536.5,140.8 537.0,140.3 537.5,139.6 538.0,138.7 538.5,137.8 539.0,136.8 539.5,136.0 540.0,135.2 540.5,134.3 541.0,133.4 541.5,132.5 542.0,131.6 542.5,130.6 543.0,129.7 543.5,128.7 544.0,127.9 544.5,127.0 545.0,126.3 545.5,125.6 546.0,125.0 546.5,124.5 547.0,123.9 547.5,123.4 548.0,122.9 548.5,122.4 549.0,121.9 549.5,121.5 550.0,121.0 550.5,120.6 551.0,120.2 551.5,119.8 552.0,119.4 552.5,119.1 553.0,118.7 553.5,118.4 554.0,118.2 554.5,117.9 555.0,117.7 555.5,117.5 556.0,117.4 556.5,117.3 557.0,117.2 557.5,117.0 558.0,116.9 558.5,116.8 559.0,116.7 559.5,116.6 560.0,116.6 560.5,116.5 561.0,116.5 561.5,116.4 562.0,116.4 562.5,116.4 563.0,116.6 563.5,116.9 564.0,117.3 564.5,117.8 565.0,118.4 565.5,119.0 566.0,119.7 566.5,120.3 567.0,121.0 567.5,121.7 568.0,122.5 568.5,123.3 569.0,124.2 569.5,125.2 570.0,126.2 570.5,127.3 571.0,128.4 571.5,129.5 572.0,130.6 572.5,131.7 573.0,132.8 573.5,133.9 574.0,135.0 574.5,136.1 575.0,137.2 575.5,138.4 576.0,139.5 576.5,140.7 577.0,141.9 577.5,143.2 578.0,144.5 578.5,145.8 579.0,147.1 579.5,148.5 580.0,149.9 580.5,151.4 581.0,152.9 581.5,154.6 582.0,156.5 582.5,158.5 583.0,160.7 583.5,162.8 584.0,164.9 584.5,167.0 585.0,168.9 585.5,170.6 586.0,172.0 586.5,173.3 587.0,174.4 587.5,175.5 588.0,176.6 588.5,177.6 589.0,178.5 589.5,179.4 590.0,180.3 590.5,181.1 591.0,182.0 591.5,182.9 592.0,183.7 592.5,184.6 593.0,185.6 593.5,186.5 594.0,187.4 594.5,188.3 595.0,189.2 595.5,190.1 596.0,191.1 596.5,192.0 597.0,192.8 597.5,193.7 598.0,194.6 598.5,195.5 599.0,196.3 599.5,197.2 600.0,198.0 600.5,198.8 601.0,199.6 601.5,200.4 602.0,201.2 602.5,201.9 603.0,202.7 603.5,203.4 604.0,204.2 604.5,204.9 605.0,205.7 605.5,206.4 606.0,207.2 606.5,208.0 607.0,208.8 607.5,209.6 608.0,210.4 608.5,211.2 609.0,212.1 609.5,213.0 610.0,213.9 610.5,214.8 611.0,215.8 611.5,216.7 612.0,217.6 612.5,218.6 613.0,219.5 613.5,220.4 614.0,221.3 614.5,222.2 615.0,223.0 615.5,223.8 616.0,224.7 616.5,225.5 617.0,226.4 617.5,227.2 618.0,228.0 618.5,228.8 619.0,229.6 619.5,230.4 620.0,231.2 620.5,232.0 621.0,232.7 621.5,233.5 622.0,234.2 622.5,234.9 623.0,235.5 623.5,236.2 624.0,236.8 624.5,237.4 625.0,238.0 625.5,238.6 626.0,239.2 626.5,239.7 627.0,240.3 627.5,240.9 628.0,241.4 628.5,241.9 629.0,242.4 629.5,242.9 630.0,243.4 630.5,243.9 631.0,244.3 631.5,244.8 632.0,245.2 632.5,245.6 633.0,246.0 633.5,246.4 634.0,246.7 634.5,247.1 635.0,247.4 635.5,247.8 636.0,248.1 636.5,248.4 637.0,248.8 637.5,249.1 638.0,249.4 638.5,249.7 639.0,250.0 639.5,250.2 640.0,250.5 640.5,250.8 641.0,251.1 641.5,251.3 642.0,251.6 642.5,251.9 643.0,252.1 643.5,252.4 644.0,252.6 644.5,252.9 645.0,253.1 645.5,253.4 646.0,253.6 646.5,253.8 647.0,254.1 647.5,254.3 648.0,254.5 L648.0,268.6 Z" fill="#21908C" fill-opacity="0.5"/>
<path d="M410.0,268.6 L410.0,95.8 410.5,94.8 411.0,93.9 411.5,93.0 412.0,92.2 412.5,91.6 413.0,91.1 413.5,90.8 414.0,90.7 414.5,90.7 415.0,90.7 415.5,90.8 416.0,90.8 416.5,90.8 417.0,90.9 417.5,90.9 418.0,91.0 418.5,91.1 419.0,91.3 419.5,91.6 420.0,92.0 420.5,92.4 421.0,92.8 421.5,93.2 422.0,93.7 422.5,94.3 423.0,95.0 423.5,95.8 424.0,96.7 424.5,97.6 425.0,98.5 425.5,99.4 426.0,100.3 426.5,101.1 427.0,101.8 427.5,102.5 428.0,103.0 428.5,103.5 429.0,103.9 429.5,104.4 430.0,104.8 430.5,105.2 431.0,105.6 431.5,106.0 432.0,106.4 432.5,106.7 433.0,107.0 433.5,107.3 434.0,107.6 434.5,107.7 435.0,107.9 435.5,108.0 436.0,108.0 436.5,108.0 437.0,107.9 437.5,107.7 438.0,107.5 438.5,107.2 439.0,106.9 439.5,106.6 440.0,106.2 440.5,105.8 441.0,105.4 441.5,104.9 442.0,104.5 442.5,104.1 443.0,103.6 443.5,103.2 444.0,102.8 444.5,102.4 445.0,102.0 445.5,101.6 446.0,101.2 446.5,100.8 447.0,100.4 447.5,100.0 448.0,99.6 448.5,99.1 449.0,98.7 449.5,98.3 450.0,97.9 450.5,97.5 451.0,97.1 451.5,96.8 452.0,96.5 452.5,96.2 453.0,96.0 453.5,95.8 454.0,95.6 454.5,95.4 455.0,95.2 455.5,95.0 456.0,94.8 456.5,94.6 457.0,94.4 457.5,94.3 458.0,94.2 458.5,94.0 459.0,93.9 459.5,93.9 460.0,93.8 460.5,93.8 461.0,93.8 461.5,93.8 462.0,93.9 462.5,94.0 463.0,94.1 463.5,94.2 464.0,94.3 464.5,94.4 465.0,94.6 465.5,94.7 466.0,94.9 466.5,95.0 467.0,95.2 467.5,95.3 468.0,95.5 468.5,95.7 469.0,95.9 469.5,96.1 470.0,96.3 470.5,96.6 471.0,96.8 471.5,97.1 472.0,97.4 472.5,97.7 473.0,98.0 473.5,98.3 474.0,98.6 474.5,98.8 475.0,99.1 475.5,99.4 476.0,99.7 476.5,99.9 477.0,100.2 477.5,100.4 478.0,100.7 478.5,101.0 479.0,101.2 479.5,101.5 480.0,101.7 480.5,102.0 481.0,102.2 481.5,102.5 482.0,102.7 482.5,103.0 483.0,103.2 483.5,103.4 484.0,103.6 484.5,103.8 485.0,104.0 485.5,104.2 486.0,104.3 486.5,104.5 487.0,104.7 487.5,104.8 488.0,104.9 488.5,105.1 489.0,105.2 489.5,105.4 490.0,105.5 490.5,105.6 491.0,105.7 491.5,105.9 492.0,106.0 492.5,106.1 493.0,106.2 493.5,106.3 494.0,106.5 494.5,106.6 495.0,106.7 495.5,106.8 496.0,106.9 496.5,107.1 497.0,107.2 497.5,107.3 498.0,107.4 498.5,107.6 499.0,107.7 499.5,107.9 500.0,108.0 500.5,108.2 501.0,108.3 501.5,108.5 502.0,108.7 502.5,108.8 503.0,109.0 503.5,109.2 504.0,109.4 504.5,109.6 505.0,109.8 505.5,110.0 506.0,110.2 506.5,110.4 507.0,110.6 507.5,110.7 508.0,110.9 508.5,111.1 509.0,111.2 509.5,111.4 510.0,111.5 510.5,111.7 511.0,111.8 511.5,111.9 512.0,112.0 512.5,112.1 513.0,112.2 513.5,112.2 514.0,112.3 514.5,112.3 515.0,112.4 515.5,112.4 516.0,112.5 516.5,112.5 517.0,112.6 517.5,112.6 518.0,112.7 518.5,112.7 519.0,112.8 519.5,112.9 520.0,113.0 520.5,113.1 521.0,113.3 521.5,113.4 522.0,113.7 522.5,113.9 523.0,114.2 523.5,114.4 524.0,114.8 524.5,115.1 525.0,115.4 525.5,115.8 526.0,116.2 526.5,116.6 527.0,117.1 527.5,117.5 528.0,118.0 528.5,118.5 529.0,119.2 529.5,119.9 530.0,120.7 530.5,121.6 531.0,122.5 531.5,123.6 532.0,124.6 532.5,125.8 533.0,127.0 533.5,128.2 534.0,129.5 534.5,130.8 535.0,132.1 535.5,133.4 536.0,134.7 536.5,136.1 537.0,137.4 537.5,138.7 538.0,140.0 538.5,141.3 539.0,142.7 539.5,144.1 540.0,145.5 540.5,147.0 541.0,148.6 541.5,150.1 542.0,151.7 542.5,153.2 543.0,154.8 543.5,156.4 544.0,158.0 544.5,159.6 545.0,161.3 545.5,163.0 546.0,164.7 546.5,166.4 547.0,168.2 547.5,169.9 548.0,171.6 548.5,173.3 549.0,174.9 549.5,176.5 550.0,178.0 550.5,179.4 551.0,180.8 551.5,182.2 552.0,183.5 552.5,184.8 553.0,186.1 553.5,187.3 554.0,188.6 554.5,189.8 555.0,191.0 555.5,192.2 556.0,193.3 556.5,194.3 557.0,195.4 557.5,196.4 558.0,197.6 558.5,198.8 559.0,200.2 559.5,201.8 560.0,203.7 560.5,205.7 561.0,207.9 561.5,210.1 562.0,212.3 562.5,214.3 563.0,216.3 563.5,218.2 564.0,220.1 564.5,222.1 565.0,224.0 565.5,225.9 566.0,227.7 566.5,229.4 567.0,230.9 567.5,232.3 568.0,233.5 568.5,234.6 569.0,235.7 569.5,236.7 570.0,237.6 570.5,238.5 571.0,239.4 571.5,240.2 572.0,241.0 572.5,241.8 573.0,242.5 573.5,243.2 574.0,243.9 574.5,244.6 575.0,245.2 575.5,245.9 576.0,246.5 576.5,247.2 577.0,247.8 577.5,248.5 578.0,249.1 578.5,249.7 579.0,250.3 579.5,250.9 580.0,251.5 580.5,252.0 581.0,252.6 581.5,253.1 582.0,253.6 582.5,254.1 583.0,254.5 583.5,254.9 584.0,255.3 584.5,255.7 585.0,256.0 585.5,256.3 586.0,256.6 586.5,256.9 587.0,257.1 587.5,257.4 588.0,257.7 588.5,257.9 589.0,258.2 589.5,258.4 590.0,258.6 590.5,258.9 591.0,259.1 591.5,259.3 592.0,259.5 592.5,259.7 593.0,259.9 593.5,260.1 594.0,260.2 594.5,260.4 595.0,260.6 595.5,260.8 596.0,260.9 596.5,261.1 597.0,261.2 597.5,261.4 598.0,261.5 598.5,261.6 599.0,261.8 599.5,261.9 600.0,262.0 600.5,262.1 601.0,262.2 601.5,262.3 602.0,262.5 602.5,262.6 603.0,262.7 603.5,262.8 604.0,262.9 604.5,263.0 605.0,263.1 605.5,263.2 606.0,263.3 606.5,263.4 607.0,263.5 607.5,263.6 608.0,263.7 608.5,263.8 609.0,263.9 609.5,264.0 610.0,264.0 610.5,264.1 611.0,264.2 611.5,264.3 612.0,264.4 612.5,264.5 613.0,264.5 613.5,264.6 614.0,264.7 614.5,264.8 615.0,264.8 615.5,264.9 616.0,265.0 616.5,265.0 617.0,265.1 617.5,265.2 618.0,265.2 618.5,265.3 619.0,265.4 619.5,265.4 620.0,265.5 620.5,265.5 621.0,265.6 621.5,265.6 622.0,265.7 622.5,265.8 623.0,265.8 623.5,265.9 624.0,265.9 624.5,266.0 625.0,266.0 625.5,266.0 626.0,266.1 626.5,266.1 627.0,266.2 627.5,266.2 628.0,266.3 628.5,266.3 629.0,266.4 629.5,266.4 630.0,266.4 630.5,266.5 631.0,266.5 631.5,266.6 632.0,266.6 632.5,266.7 633.0,266.7 633.5,266.7 634.0,266.8 634.5,266.8 635.0,266.8 635.5,266.9 636.0,266.9 636.5,267.0 637.0,267.0 637.5,267.0 638.0,267.1 638.5,267.1 639.0,267.1 639.5,267.2 640.0,267.2 640.5,267.2 641.0,267.2 641.5,267.3 642.0,267.3 642.5,267.3 643.0,267.3 643.5,267.4 644.0,267.4 644.5,267.4 645.0,267.4 645.5,267.4 646.0,267.4 646.5,267.5 647.0,267.5 647.5,267.5 648.0,267.5 L648.0,268.6 Z" fill="#35B779" fill-opacity="0.5"/>
<path d="M410.0,268.6 L410.0,152.0 410.5,151.2 411.0,150.2 411.5,149.0 412.0,147.5 412.5,146.0 413.0,144.2 413.5,141.9 414.0,139.4 414.5,136.7 415.0,134.0 415.5,131.5 416.0,128.8 416.5,126.1 417.0,123.4 417.5,120.7 418.0,118.0 418.5,115.4 419.0,112.8 419.5,110.3 420.0,107.6 420.5,104.9 421.0,101.9 421.5,98.7 422.0,95.7 422.5,92.8 423.0,90.2 423.5,88.0 424.0,85.9 424.5,83.9 425.0,82.0 425.5,80.1 426.0,78.1 426.5,76.0 427.0,74.0 427.5,72.3 428.0,71.0 428.5,70.0 429.0,69.0 429.5,68.0 430.0,67.2 430.5,66.5 431.0,66.0 431.5,65.7 432.0,65.7 432.5,65.9 433.0,66.3 433.5,66.9 434.0,67.6 434.5,68.4 435.0,69.2 435.5,70.0 436.0,70.9 436.5,72.0 437.0,73.3 437.5,74.6 438.0,76.1 438.5,77.6 439.0,79.1 439.5,80.6 440.0,82.0 440.5,83.4 441.0,84.7 441.5,86.0 442.0,87.4 442.5,88.8 443.0,90.3 443.5,92.0 444.0,93.9 444.5,96.1 445.0,98.5 445.5,100.8 446.0,103.0 446.5,105.1 447.0,107.1 447.5,109.1 448.0,111.0 448.5,113.0 449.0,115.0 449.5,117.0 450.0,119.0 450.5,120.9 451.0,122.8 451.5,124.5 452.0,126.1 452.5,127.7 453.0,129.2 453.5,130.6 454.0,132.0 454.5,133.4 455.0,134.7 455.5,136.0 456.0,137.3 456.5,138.5 457.0,139.7 457.5,140.9 458.0,142.0 458.5,143.0 459.0,144.0 459.5,145.0 460.0,146.0 460.5,146.5 461.0,146.3 461.5,145.7 462.0,144.9 462.5,144.0 463.0,143.1 463.5,142.0 464.0,140.7 464.5,139.4 465.0,138.0 465.5,136.6 466.0,135.3 466.5,134.0 467.0,132.8 467.5,131.7 468.0,130.5 468.5,129.4 469.0,128.3 469.5,127.1 470.0,125.8 470.5,124.5 471.0,123.1 471.5,121.5 472.0,119.9 472.5,118.2 473.0,116.5 473.5,114.7 474.0,113.0 474.5,111.3 475.0,109.6 475.5,107.8 476.0,106.0 476.5,104.1 477.0,102.0 477.5,99.6 478.0,96.8 478.5,93.9 479.0,91.0 479.5,88.3 480.0,86.0 480.5,84.1 481.0,82.5 481.5,81.0 482.0,79.6 482.5,78.1 483.0,76.6 483.5,75.0 484.0,73.3 484.5,71.7 485.0,69.8 485.5,67.5 486.0,64.0 486.5,59.1 487.0,54.4 487.5,50.9 488.0,47.8 488.5,44.9 489.0,42.3 489.5,39.7 490.0,37.1 490.5,34.7 491.0,32.4 491.5,30.1 492.0,28.0 492.5,26.0 493.0,24.1 493.5,22.2 494.0,20.5 494.5,18.8 495.0,17.3 495.5,15.9 496.0,14.6 496.5,13.3 497.0,12.1 497.5,11.1 498.0,10.2 498.5,9.5 499.0,8.9 499.5,8.4 500.0,7.9 500.5,7.5 501.0,7.3 501.5,7.1 502.0,7.1 502.5,7.3 503.0,7.6 503.5,8.0 504.0,8.4 504.5,9.0 505.0,9.5 505.5,10.2 506.0,11.1 506.5,12.2 507.0,13.4 507.5,14.6 508.0,15.8 508.5,17.1 509.0,18.5 509.5,19.9 510.0,21.4 510.5,23.0 511.0,24.6 511.5,26.2 512.0,27.8 512.5,29.4 513.0,31.1 513.5,32.8 514.0,34.6 514.5,36.4 515.0,38.3 515.5,40.2 516.0,42.2 516.5,44.3 517.0,46.5 517.5,48.8 518.0,51.0 518.5,53.2 519.0,55.3 519.5,57.5 520.0,59.6 520.5,61.7 521.0,63.8 521.5,65.8 522.0,67.8 522.5,69.6 523.0,71.4 523.5,73.2 524.0,74.9 524.5,76.6 525.0,78.3 525.5,80.1 526.0,81.8 526.5,83.5 527.0,85.1 527.5,86.8 528.0,88.6 528.5,90.6 529.0,92.7 529.5,95.1 530.0,97.6 530.5,100.2 531.0,102.8 531.5,105.5 532.0,108.2 532.5,111.1 533.0,114.1 533.5,117.0 534.0,119.6 534.5,121.9 535.0,124.0 535.5,125.8 536.0,127.6 536.5,129.2 537.0,130.8 537.5,132.4 538.0,134.0 538.5,135.6 539.0,137.1 539.5,138.7 540.0,140.1 540.5,141.6 541.0,143.1 541.5,144.5 542.0,146.0 542.5,147.4 543.0,148.9 543.5,150.4 544.0,152.0 544.5,153.6 545.0,155.2 545.5,156.9 546.0,158.5 546.5,160.2 547.0,161.9 547.5,163.6 548.0,165.3 548.5,167.0 549.0,168.6 549.5,170.3 550.0,172.0 550.5,173.7 551.0,175.3 551.5,177.0 552.0,178.7 552.5,180.3 553.0,182.0 553.5,183.7 554.0,185.3 554.5,187.0 555.0,188.7 555.5,190.3 556.0,192.0 556.5,193.7 557.0,195.4 557.5,197.1 558.0,198.8 558.5,200.5 559.0,202.2 559.5,203.9 560.0,205.6 560.5,207.2 561.0,208.8 561.5,210.4 562.0,212.0 562.5,213.5 563.0,215.1 563.5,216.7 564.0,218.2 564.5,219.7 565.0,221.3 565.5,222.7 566.0,224.2 566.5,225.6 567.0,227.0 567.5,228.4 568.0,229.6 568.5,230.8 569.0,232.0 569.5,233.1 570.0,234.3 570.5,235.4 571.0,236.6 571.5,237.8 572.0,238.9 572.5,240.0 573.0,241.1 573.5,242.1 574.0,243.0 574.5,243.8 575.0,244.6 575.5,245.3 576.0,245.8 576.5,246.2 577.0,246.5 577.5,246.7 578.0,246.9 578.5,247.1 579.0,247.3 579.5,247.4 580.0,247.6 580.5,247.7 581.0,247.9 581.5,248.0 582.0,248.1 582.5,248.2 583.0,248.3 583.5,248.4 584.0,248.5 584.5,248.6 585.0,248.7 585.5,248.8 586.0,248.9 586.5,249.0 587.0,249.0 587.5,249.1 588.0,249.2 588.5,249.3 589.0,249.3 589.5,249.4 590.0,249.5 590.5,249.5 591.0,249.6 591.5,249.7 592.0,249.8 592.5,249.8 593.0,249.9 593.5,250.0 594.0,250.1 594.5,250.2 595.0,250.3 595.5,250.4 596.0,250.5 596.5,250.6 597.0,250.7 597.5,250.8 598.0,251.0 598.5,251.1 599.0,251.2 599.5,251.3 600.0,251.4 600.5,251.5 601.0,251.7 601.5,251.8 602.0,251.9 602.5,252.0 603.0,252.2 603.5,252.3 604.0,252.4 604.5,252.5 605.0,252.6 605.5,252.8 606.0,252.9 606.5,253.0 607.0,253.1 607.5,253.3 608.0,253.4 608.5,253.5 609.0,253.7 609.5,253.8 610.0,253.9 610.5,254.0 611.0,254.2 611.5,254.3 612.0,254.4 612.5,254.5 613.0,254.7 613.5,254.8 614.0,254.9 614.5,255.0 615.0,255.2 615.5,255.3 616.0,255.4 616.5,255.5 617.0,255.7 617.5,255.8 618.0,255.9 618.5,256.0 619.0,256.1 619.5,256.3 620.0,256.4 620.5,256.5 621.0,256.6 621.5,256.7 622.0,256.8 622.5,256.9 623.0,257.1 623.5,257.2 624.0,257.3 624.5,257.4 625.0,257.5 625.5,257.6 626.0,257.7 626.5,257.8 627.0,257.9 627.5,258.0 628.0,258.1 628.5,258.2 629.0,258.3 629.5,258.5 630.0,258.6 630.5,258.7 631.0,258.8 631.5,258.9 632.0,259.0 632.5,259.1 633.0,259.2 633.5,259.3 634.0,259.4 634.5,259.5 635.0,259.6 635.5,259.7 636.0,259.8 636.5,259.9 637.0,260.0 637.5,260.1 638.0,260.2 638.5,260.3 639.0,260.3 639.5,260.4 640.0,260.5 640.5,260.6 641.0,260.7 641.5,260.8 642.0,260.9 642.5,261.0 643.0,261.1 643.5,261.2 644.0,261.3 644.5,261.4 645.0,261.5 645.5,261.6 646.0,261.6 646.5,261.7 647.0,261.8 647.5,261.9 648.0,262.0 L648.0,268.6 Z" fill="#8FD744" fill-opacity="0.5"/>
<path d="M410.0,268.6 L410.0,166.5 410.5,165.6 411.0,164.7 411.5,163.9 412.0,163.1 412.5,162.3 413.0,161.5 413.5,160.8 414.0,160.0 414.5,159.3 415.0,158.6 415.5,157.9 416.0,157.3 416.5,156.6 417.0,156.0 417.5,155.4 418.0,154.8 418.5,154.2 419.0,153.6 419.5,153.1 420.0,152.5 420.5,151.9 421.0,151.4 421.5,150.9 422.0,150.4 422.5,149.9 423.0,149.4 423.5,148.9 424.0,148.5 424.5,148.0 425.0,147.5 425.5,147.1 426.0,146.6 426.5,146.2 427.0,145.8 427.5,145.4 428.0,145.0 428.5,144.6 429.0,144.2 429.5,143.8 430.0,143.5 430.5,143.2 431.0,142.8 431.5,142.5 432.0,142.2 432.5,141.8 433.0,141.5 433.5,141.2 434.0,140.9 434.5,140.6 435.0,140.3 435.5,140.1 436.0,139.8 436.5,139.6 437.0,139.4 437.5,139.2 438.0,139.0 438.5,138.8 439.0,138.7 439.5,138.5 440.0,138.3 440.5,138.1 441.0,138.0 441.5,137.8 442.0,137.7 442.5,137.5 443.0,137.4 443.5,137.2 444.0,137.1 444.5,137.0 445.0,136.9 445.5,136.8 446.0,136.7 446.5,136.7 447.0,136.6 447.5,136.6 448.0,136.6 448.5,136.6 449.0,136.6 449.5,136.6 450.0,136.6 450.5,136.7 451.0,136.7 451.5,136.7 452.0,136.7 452.5,136.8 453.0,136.8 453.5,136.9 454.0,136.9 454.5,136.9 455.0,137.0 455.5,137.0 456.0,137.1 456.5,137.1 457.0,137.2 457.5,137.3 458.0,137.3 458.5,137.4 459.0,137.4 459.5,137.5 460.0,137.6 460.5,137.6 461.0,137.7 461.5,137.7 462.0,137.8 462.5,137.9 463.0,137.9 463.5,138.0 464.0,138.1 464.5,138.2 465.0,138.2 465.5,138.3 466.0,138.4 466.5,138.5 467.0,138.6 467.5,138.7 468.0,138.8 468.5,138.9 469.0,139.0 469.5,139.2 470.0,139.3 470.5,139.4 471.0,139.5 471.5,139.7 472.0,139.8 472.5,139.9 473.0,140.1 473.5,140.2 474.0,140.3 474.5,140.5 475.0,140.6 475.5,140.8 476.0,140.9 476.5,141.1 477.0,141.2 477.5,141.4 478.0,141.6 478.5,141.7 479.0,141.9 479.5,142.1 480.0,142.3 480.5,142.5 481.0,142.8 481.5,143.0 482.0,143.2 482.5,143.4 483.0,143.7 483.5,143.9 484.0,144.2 484.5,144.4 485.0,144.7 485.5,144.9 486.0,145.2 486.5,145.5 487.0,145.7 487.5,146.0 488.0,146.3 488.5,146.6 489.0,146.9 489.5,147.1 490.0,147.4 490.5,147.7 491.0,148.0 491.5,148.3 492.0,148.6 492.5,148.9 493.0,149.2 493.5,149.5 494.0,149.8 494.5,150.1 495.0,150.4 495.5,150.7 496.0,151.0 496.5,151.3 497.0,151.6 497.5,151.9 498.0,152.2 498.5,152.5 499.0,152.9 499.5,153.2 500.0,153.5 500.5,153.9 501.0,154.2 501.5,154.6 502.0,155.0 502.5,155.3 503.0,155.7 503.5,156.1 504.0,156.5 504.5,156.9 505.0,157.3 505.5,157.8 506.0,158.2 506.5,158.6 507.0,159.1 507.5,159.6 508.0,160.1 508.5,160.5 509.0,161.0 509.5,161.5 510.0,162.0 510.5,162.6 511.0,163.1 511.5,163.6 512.0,164.1 512.5,164.6 513.0,165.1 513.5,165.7 514.0,166.2 514.5,166.8 515.0,167.4 515.5,167.9 516.0,168.5 516.5,169.1 517.0,169.7 517.5,170.2 518.0,170.8 518.5,171.4 519.0,172.0 519.5,172.5 520.0,173.1 520.5,173.6 521.0,174.2 521.5,174.7 522.0,175.2 522.5,175.7 523.0,176.2 523.5,176.7 524.0,177.2 524.5,177.7 525.0,178.2 525.5,178.7 526.0,179.2 526.5,179.7 527.0,180.2 527.5,180.6 528.0,181.1 528.5,181.6 529.0,182.1 529.5,182.5 530.0,183.0 530.5,183.5 531.0,183.9 531.5,184.4 532.0,184.9 532.5,185.4 533.0,185.8 533.5,186.3 534.0,186.8 534.5,187.2 535.0,187.7 535.5,188.1 536.0,188.6 536.5,189.0 537.0,189.5 537.5,189.9 538.0,190.3 538.5,190.8 539.0,191.2 539.5,191.6 540.0,192.0 540.5,192.4 541.0,192.8 541.5,193.2 542.0,193.7 542.5,194.1 543.0,194.5 543.5,194.9 544.0,195.3 544.5,195.7 545.0,196.1 545.5,196.5 546.0,196.8 546.5,197.2 547.0,197.5 547.5,197.8 548.0,198.1 548.5,198.3 549.0,198.5 549.5,198.7 550.0,198.9 550.5,199.1 551.0,199.3 551.5,199.4 552.0,199.6 552.5,199.8 553.0,199.9 553.5,200.1 554.0,200.2 554.5,200.4 555.0,200.5 555.5,200.6 556.0,200.7 556.5,200.7 557.0,200.8 557.5,200.8 558.0,200.8 558.5,200.8 559.0,200.7 559.5,200.6 560.0,200.5 560.5,200.4 561.0,200.3 561.5,200.1 562.0,199.9 562.5,199.7 563.0,199.5 563.5,199.3 564.0,199.0 564.5,198.8 565.0,198.5 565.5,198.3 566.0,198.0 566.5,197.8 567.0,197.5 567.5,197.2 568.0,197.0 568.5,196.7 569.0,196.5 569.5,196.2 570.0,196.0 570.5,195.8 571.0,195.5 571.5,195.3 572.0,195.1 572.5,194.8 573.0,194.5 573.5,194.3 574.0,194.0 574.5,193.8 575.0,193.5 575.5,193.2 576.0,192.9 576.5,192.7 577.0,192.4 577.5,192.1 578.0,191.8 578.5,191.6 579.0,191.3 579.5,191.0 580.0,190.7 580.5,190.5 581.0,190.2 581.5,190.0 582.0,189.7 582.5,189.5 583.0,189.2 583.5,189.0 584.0,188.8 584.5,188.5 585.0,188.3 585.5,188.1 586.0,187.8 586.5,187.6 587.0,187.3 587.5,187.1 588.0,186.9 588.5,186.6 589.0,186.4 589.5,186.2 590.0,185.9 590.5,185.7 591.0,185.5 591.5,185.3 592.0,185.1 592.5,184.9 593.0,184.7 593.5,184.5 594.0,184.3 594.5,184.1 595.0,184.0 595.5,183.8 596.0,183.7 596.5,183.6 597.0,183.5 597.5,183.4 598.0,183.3 598.5,183.2 599.0,183.1 599.5,183.0 600.0,182.9 600.5,182.8 601.0,182.8 601.5,182.7 602.0,182.6 602.5,182.5 603.0,182.4 603.5,182.4 604.0,182.3 604.5,182.2 605.0,182.2 605.5,182.1 606.0,182.1 606.5,182.0 607.0,182.0 607.5,182.0 608.0,181.9 608.5,181.9 609.0,181.9 609.5,181.9 610.0,181.9 610.5,181.9 611.0,182.0 611.5,182.0 612.0,182.1 612.5,182.2 613.0,182.3 613.5,182.5 614.0,182.6 614.5,182.8 615.0,183.0 615.5,183.1 616.0,183.3 616.5,183.5 617.0,183.7 617.5,183.9 618.0,184.2 618.5,184.4 619.0,184.6 619.5,184.8 620.0,185.1 620.5,185.3 621.0,185.5 621.5,185.8 622.0,186.0 622.5,186.2 623.0,186.5 623.5,186.8 624.0,187.0 624.5,187.3 625.0,187.7 625.5,188.0 626.0,188.3 626.5,188.7 627.0,189.0 627.5,189.4 628.0,189.8 628.5,190.2 629.0,190.6 629.5,191.0 630.0,191.4 630.5,191.8 631.0,192.2 631.5,192.6 632.0,193.0 632.5,193.4 633.0,193.8 633.5,194.3 634.0,194.7 634.5,195.1 635.0,195.6 635.5,196.1 636.0,196.5 636.5,197.0 637.0,197.5 637.5,198.0 638.0,198.5 638.5,199.0 639.0,199.5 639.5,200.1 640.0,200.6 640.5,201.2 641.0,201.7 641.5,202.3 642.0,202.9 642.5,203.5 643.0,204.2 643.5,204.8 644.0,205.5 644.5,206.2 645.0,206.9 645.5,207.7 646.0,208.5 646.5,209.4 647.0,210.2 647.5,211.1 648.0,212.0 L648.0,268.6 Z" fill="#FDE725" fill-opacity="0.5"/>
<path d="M410.0,222.5 L410.5,220.6 L411.0,218.8 L411.5,216.9 L412.0,215.1 L412.5,213.3 L413.0,211.4 L413.5,209.6 L414.0,207.8 L414.5,206.0 L415.0,204.2 L415.5,202.4 L416.0,200.6 L416.5,198.9 L417.0,197.1 L417.5,195.3 L418.0,193.6 L418.5,191.8 L419.0,190.1 L419.5,188.4 L420.0,186.7 L420.5,185.0 L421.0,183.4 L421.5,181.7 L422.0,180.1 L422.5,178.5 L423.0,176.9 L423.5,175.3 L424.0,173.7 L424.5,172.1 L425.0,170.6 L425.5,169.0 L426.0,167.5 L426.5,165.9 L427.0,164.4 L427.5,162.9 L428.0,161.5 L428.5,160.2 L429.0,158.8 L429.5,157.4 L430.0,156.0 L430.5,154.4 L431.0,152.8 L431.5,151.1 L432.0,149.2 L432.5,147.2 L433.0,144.9 L433.5,142.5 L434.0,139.8 L434.5,137.0 L435.0,133.7 L435.5,129.8 L436.0,125.7 L436.5,121.7 L437.0,118.1 L437.5,115.2 L438.0,112.5 L438.5,109.9 L439.0,107.5 L439.5,105.2 L440.0,103.0 L440.5,100.8 L441.0,98.7 L441.5,96.6 L442.0,94.5 L442.5,92.4 L443.0,90.3 L443.5,88.1 L444.0,86.0 L444.5,84.0 L445.0,81.9 L445.5,79.9 L446.0,77.9 L446.5,76.0 L447.0,74.1 L447.5,72.2 L448.0,70.4 L448.5,68.5 L449.0,66.6 L449.5,64.7 L450.0,62.8 L450.5,61.0 L451.0,59.3 L451.5,57.7 L452.0,56.2 L452.5,55.0 L453.0,54.0 L453.5,53.1 L454.0,52.3 L454.5,51.5 L455.0,50.8 L455.5,50.2 L456.0,49.5 L456.5,49.0 L457.0,48.5 L457.5,48.1 L458.0,47.8 L458.5,47.6 L459.0,47.3 L459.5,47.1 L460.0,46.9 L460.5,46.7 L461.0,46.6 L461.5,46.6 L462.0,46.6 L462.5,46.7 L463.0,46.8 L463.5,46.9 L464.0,47.1 L464.5,47.3 L465.0,47.5 L465.5,47.8 L466.0,48.3 L466.5,48.9 L467.0,49.6 L467.5,50.4 L468.0,51.1 L468.5,51.9 L469.0,52.6 L469.5,53.4 L470.0,54.2 L470.5,55.0 L471.0,55.9 L471.5,56.7 L472.0,57.6 L472.5,58.4 L473.0,59.3 L473.5,60.2 L474.0,61.0 L474.5,61.8 L475.0,62.7 L475.5,63.5 L476.0,64.3 L476.5,65.1 L477.0,66.0 L477.5,66.8 L478.0,67.6 L478.5,68.4 L479.0,69.2 L479.5,69.9 L480.0,70.7 L480.5,71.4 L481.0,72.2 L481.5,72.9 L482.0,73.6 L482.5,74.3 L483.0,75.0 L483.5,75.7 L484.0,76.4 L484.5,77.1 L485.0,77.8 L485.5,78.5 L486.0,79.1 L486.5,79.8 L487.0,80.5 L487.5,81.1 L488.0,81.8 L488.5,82.4 L489.0,83.0 L489.5,83.7 L490.0,84.3 L490.5,85.0 L491.0,85.6 L491.5,86.2 L492.0,86.9 L492.5,87.5 L493.0,88.1 L493.5,88.8 L494.0,89.4 L494.5,90.0 L495.0,90.6 L495.5,91.2 L496.0,91.8 L496.5,92.4 L497.0,93.0 L497.5,93.6 L498.0,94.2 L498.5,94.8 L499.0,95.4 L499.5,96.0 L500.0,96.6 L500.5,97.2 L501.0,97.9 L501.5,98.5 L502.0,99.1 L502.5,99.8 L503.0,100.4 L503.5,101.0 L504.0,101.7 L504.5,102.3 L505.0,102.9 L505.5,103.5 L506.0,104.2 L506.5,104.8 L507.0,105.5 L507.5,106.1 L508.0,106.8 L508.5,107.5 L509.0,108.2 L509.5,108.9 L510.0,109.6 L510.5,110.4 L511.0,111.2 L511.5,112.0 L512.0,112.9 L512.5,113.8 L513.0,114.7 L513.5,115.7 L514.0,116.7 L514.5,117.7 L515.0,118.7 L515.5,119.8 L516.0,120.8 L516.5,121.8 L517.0,122.8 L517.5,123.8 L518.0,124.8 L518.5,125.8 L519.0,126.8 L519.5,127.8 L520.0,128.8 L520.5,129.8 L521.0,130.8 L521.5,131.8 L522.0,132.7 L522.5,133.6 L523.0,134.4 L523.5,135.2 L524.0,135.8 L524.5,136.5 L525.0,137.1 L525.5,137.7 L526.0,138.3 L526.5,138.9 L527.0,139.4 L527.5,140.0 L528.0,140.5 L528.5,141.0 L529.0,141.4 L529.5,141.8 L530.0,142.3 L530.5,142.6 L531.0,143.0 L531.5,143.3 L532.0,143.7 L532.5,144.0 L533.0,144.3 L533.5,144.6 L534.0,144.8 L534.5,145.1 L535.0,145.4 L535.5,145.6 L536.0,145.8 L536.5,146.0 L537.0,146.2 L537.5,146.4 L538.0,146.6 L538.5,146.8 L539.0,147.0 L539.5,147.1 L540.0,147.3 L540.5,147.4 L541.0,147.6 L541.5,147.7 L542.0,147.8 L542.5,147.9 L543.0,148.1 L543.5,148.2 L544.0,148.3 L544.5,148.5 L545.0,148.6 L545.5,148.7 L546.0,148.9 L546.5,149.0 L547.0,149.2 L547.5,149.4 L548.0,149.6 L548.5,149.8 L549.0,150.0 L549.5,150.2 L550.0,150.4 L550.5,150.6 L551.0,150.9 L551.5,151.1 L552.0,151.4 L552.5,151.7 L553.0,152.0 L553.5,152.3 L554.0,152.7 L554.5,153.2 L555.0,153.6 L555.5,154.1 L556.0,154.7 L556.5,155.2 L557.0,155.7 L557.5,156.2 L558.0,156.7 L558.5,157.2 L559.0,157.7 L559.5,158.1 L560.0,158.6 L560.5,159.0 L561.0,159.5 L561.5,159.9 L562.0,160.4 L562.5,160.9 L563.0,161.3 L563.5,161.8 L564.0,162.3 L564.5,162.8 L565.0,163.3 L565.5,163.8 L566.0,164.3 L566.5,164.8 L567.0,165.4 L567.5,165.9 L568.0,166.5 L568.5,167.1 L569.0,167.7 L569.5,168.4 L570.0,169.1 L570.5,169.8 L571.0,170.6 L571.5,171.4 L572.0,172.2 L572.5,173.0 L573.0,173.8 L573.5,174.6 L574.0,175.4 L574.5,176.2 L575.0,177.1 L575.5,177.9 L576.0,178.7 L576.5,179.6 L577.0,180.4 L577.5,181.3 L578.0,182.1 L578.5,183.0 L579.0,183.9 L579.5,184.8 L580.0,185.6 L580.5,186.5 L581.0,187.4 L581.5,188.2 L582.0,189.1 L582.5,189.9 L583.0,190.8 L583.5,191.7 L584.0,192.5 L584.5,193.4 L585.0,194.2 L585.5,195.1 L586.0,196.0 L586.5,196.8 L587.0,197.7 L587.5,198.5 L588.0,199.4 L588.5,200.2 L589.0,201.1 L589.5,202.0 L590.0,202.8 L590.5,203.7 L591.0,204.5 L591.5,205.4 L592.0,206.3 L592.5,207.1 L593.0,208.0 L593.5,208.8 L594.0,209.7 L594.5,210.5 L595.0,211.4 L595.5,212.3 L596.0,213.1 L596.5,214.0 L597.0,214.8 L597.5,215.7 L598.0,216.6 L598.5,217.4 L599.0,218.3 L599.5,219.1 L600.0,220.0 L600.5,220.8 L601.0,221.6 L601.5,222.5 L602.0,223.3 L602.5,224.1 L603.0,224.9 L603.5,225.8 L604.0,226.6 L604.5,227.4 L605.0,228.2 L605.5,229.0 L606.0,229.8 L606.5,230.6 L607.0,231.3 L607.5,232.1 L608.0,232.8 L608.5,233.5 L609.0,234.3 L609.5,235.0 L610.0,235.7 L610.5,236.4 L611.0,237.1 L611.5,237.8 L612.0,238.5 L612.5,239.1 L613.0,239.8 L613.5,240.4 L614.0,241.0 L614.5,241.6 L615.0,242.2 L615.5,242.7 L616.0,243.2 L616.5,243.7 L617.0,244.2 L617.5,244.6 L618.0,245.1 L618.5,245.6 L619.0,246.0 L619.5,246.4 L620.0,246.8 L620.5,247.2 L621.0,247.6 L621.5,248.0 L622.0,248.4 L622.5,248.8 L623.0,249.1 L623.5,249.5 L624.0,249.8 L624.5,250.2 L625.0,250.5 L625.5,250.8 L626.0,251.1 L626.5,251.5 L627.0,251.8 L627.5,252.1 L628.0,252.4 L628.5,252.7 L629.0,252.9 L629.5,253.2 L630.0,253.5 L630.5,253.8 L631.0,254.0 L631.5,254.3 L632.0,254.5 L632.5,254.8 L633.0,255.0 L633.5,255.2 L634.0,255.5 L634.5,255.7 L635.0,255.9 L635.5,256.1 L636.0,256.2 L636.5,256.4 L637.0,256.6 L637.5,256.8 L638.0,256.9 L638.5,257.1 L639.0,257.3 L639.5,257.4 L640.0,257.6 L640.5,257.8 L641.0,258.0 L641.5,258.2 L642.0,258.4 L642.5,258.6 L643.0,258.8 L643.5,259.0 L644.0,259.2 L644.5,259.4 L645.0,259.7 L645.5,259.9 L646.0,260.1 L646.5,260.3 L647.0,260.5 L647.5,260.8 L648.0,261.0" fill="none" stroke="#000" stroke-width="1.1"/>
<rect x="34.0" y="2.5" width="268.0" height="269.9" fill="none" stroke="#6a6a6a" stroke-width="1.6"/>
<line x1="33.3" y1="272.4" x2="302.7" y2="272.4" stroke="#333" stroke-width="1.2"/>
<rect x="398.5" y="6.0" width="261.8" height="262.8" fill="none" stroke="#505050" stroke-width="1.4"/>
<line x1="397.8" y1="268.8" x2="661.0" y2="268.8" stroke="#333" stroke-width="1.2"/>
<line x1="30.5" y1="271.9" x2="34.0" y2="271.9" stroke="#333" stroke-width="1.1"/>
<text x="28.2" y="278.3" font-size="15.3" text-anchor="end" fill="#2b2b2b" class="t" style="color:#2b2b2b">0</text>
<line x1="30.5" y1="194.1" x2="34.0" y2="194.1" stroke="#333" stroke-width="1.1"/>
<text x="28.2" y="200.5" font-size="15.3" text-anchor="end" fill="#2b2b2b" class="t" style="color:#2b2b2b">1</text>
<line x1="30.5" y1="116.3" x2="34.0" y2="116.3" stroke="#333" stroke-width="1.1"/>
<text x="28.2" y="122.7" font-size="15.3" text-anchor="end" fill="#2b2b2b" class="t" style="color:#2b2b2b">2</text>
<line x1="30.5" y1="38.5" x2="34.0" y2="38.5" stroke="#333" stroke-width="1.1"/>
<text x="28.2" y="44.9" font-size="15.3" text-anchor="end" fill="#2b2b2b" class="t" style="color:#2b2b2b">3</text>
<line x1="33.4" y1="272.4" x2="33.4" y2="275.4" stroke="#333" stroke-width="1.1"/>
<text x="33.4" y="290.9" font-size="15.3" text-anchor="middle" fill="#2b2b2b" class="t" style="color:#2b2b2b">0.00</text>
<line x1="100.3" y1="272.4" x2="100.3" y2="275.4" stroke="#333" stroke-width="1.1"/>
<text x="100.3" y="290.9" font-size="15.3" text-anchor="middle" fill="#2b2b2b" class="t" style="color:#2b2b2b">0.25</text>
<line x1="167.2" y1="272.4" x2="167.2" y2="275.4" stroke="#333" stroke-width="1.1"/>
<text x="167.2" y="290.9" font-size="15.3" text-anchor="middle" fill="#2b2b2b" class="t" style="color:#2b2b2b">0.50</text>
<line x1="234.1" y1="272.4" x2="234.1" y2="275.4" stroke="#333" stroke-width="1.1"/>
<text x="234.1" y="290.9" font-size="15.3" text-anchor="middle" fill="#2b2b2b" class="t" style="color:#2b2b2b">0.75</text>
<line x1="301.0" y1="272.4" x2="301.0" y2="275.4" stroke="#333" stroke-width="1.1"/>
<text x="301.0" y="290.9" font-size="15.3" text-anchor="middle" fill="#2b2b2b" class="t" style="color:#2b2b2b">1.00</text>
<line x1="395.5" y1="268.6" x2="398.5" y2="268.6" stroke="#333" stroke-width="1.1"/>
<text x="392.6" y="275.0" font-size="15.3" text-anchor="end" fill="#2b2b2b" class="t" style="color:#2b2b2b">0.0</text>
<line x1="395.5" y1="183.5" x2="398.5" y2="183.5" stroke="#333" stroke-width="1.1"/>
<text x="392.6" y="189.9" font-size="15.3" text-anchor="end" fill="#2b2b2b" class="t" style="color:#2b2b2b">0.1</text>
<line x1="395.5" y1="98.4" x2="398.5" y2="98.4" stroke="#333" stroke-width="1.1"/>
<text x="392.6" y="104.8" font-size="15.3" text-anchor="end" fill="#2b2b2b" class="t" style="color:#2b2b2b">0.2</text>
<line x1="395.5" y1="13.3" x2="398.5" y2="13.3" stroke="#333" stroke-width="1.1"/>
<text x="392.6" y="19.7" font-size="15.3" text-anchor="end" fill="#2b2b2b" class="t" style="color:#2b2b2b">0.3</text>
<line x1="398.5" y1="268.8" x2="398.5" y2="271.8" stroke="#333" stroke-width="1.1"/>
<text x="398.5" y="287.9" font-size="15.3" text-anchor="middle" fill="#2b2b2b" class="t" style="color:#2b2b2b">0</text>
<line x1="463.8" y1="268.8" x2="463.8" y2="271.8" stroke="#333" stroke-width="1.1"/>
<text x="463.8" y="287.9" font-size="15.3" text-anchor="middle" fill="#2b2b2b" class="t" style="color:#2b2b2b">2</text>
<line x1="529.1" y1="268.8" x2="529.1" y2="271.8" stroke="#333" stroke-width="1.1"/>
<text x="529.1" y="287.9" font-size="15.3" text-anchor="middle" fill="#2b2b2b" class="t" style="color:#2b2b2b">4</text>
<line x1="594.4" y1="268.8" x2="594.4" y2="271.8" stroke="#333" stroke-width="1.1"/>
<text x="594.4" y="287.9" font-size="15.3" text-anchor="middle" fill="#2b2b2b" class="t" style="color:#2b2b2b">6</text>
<line x1="659.7" y1="268.8" x2="659.7" y2="271.8" stroke="#333" stroke-width="1.1"/>
<text x="659.7" y="287.9" font-size="15.3" text-anchor="middle" fill="#2b2b2b" class="t" style="color:#2b2b2b">8</text>
<text x="167" y="312" font-size="17.6" font-weight="bold" text-anchor="middle" fill="#000">fPARi</text>
<text x="528.6" y="308.1" font-size="17.6" font-weight="bold" text-anchor="middle" fill="#000">LAI</text>
<text transform="translate(15.2,136.2) rotate(-90)" font-size="14.8" letter-spacing="0.45" text-anchor="middle" fill="#111">density</text>
<text x="678.4" y="74.9" font-size="17.1" font-weight="bold" fill="#000">Genotype</text>
<rect x="679" y="84.9" width="16.2" height="17.2" fill="#440154" fill-opacity="0.5"/>
<text x="705.2" y="100.2" font-size="14.8" fill="#1a1a1a" class="t" style="color:#1a1a1a">DK2F10</text>
<rect x="679" y="103.5" width="16.2" height="17.2" fill="#443A83" fill-opacity="0.5"/>
<text x="705.2" y="118.8" font-size="14.8" fill="#1a1a1a" class="t" style="color:#1a1a1a">DK752</text>
<rect x="679" y="122.1" width="16.2" height="17.2" fill="#31688E" fill-opacity="0.5"/>
<text x="705.2" y="137.4" font-size="14.8" fill="#1a1a1a" class="t" style="color:#1a1a1a">DK190</text>
<rect x="679" y="140.7" width="16.2" height="17.2" fill="#21908C" fill-opacity="0.5"/>
<text x="705.2" y="156.0" font-size="14.8" fill="#1a1a1a" class="t" style="color:#1a1a1a">DK72-10</text>
<rect x="679" y="159.3" width="16.2" height="17.2" fill="#35B779" fill-opacity="0.5"/>
<text x="705.2" y="174.6" font-size="14.8" fill="#1a1a1a" class="t" style="color:#1a1a1a">LP 122-2</text>
<rect x="679" y="177.9" width="16.2" height="17.2" fill="#8FD744" fill-opacity="0.5"/>
<text x="705.2" y="193.2" font-size="14.8" fill="#1a1a1a" class="t" style="color:#1a1a1a">P 39 W55</text>
<rect x="679" y="196.5" width="16.2" height="17.2" fill="#FDE725" fill-opacity="0.5"/>
<text x="705.2" y="211.8" font-size="14.8" fill="#1a1a1a" class="t" style="color:#1a1a1a">AX 892 MG</text>
</svg>
</body></html>
